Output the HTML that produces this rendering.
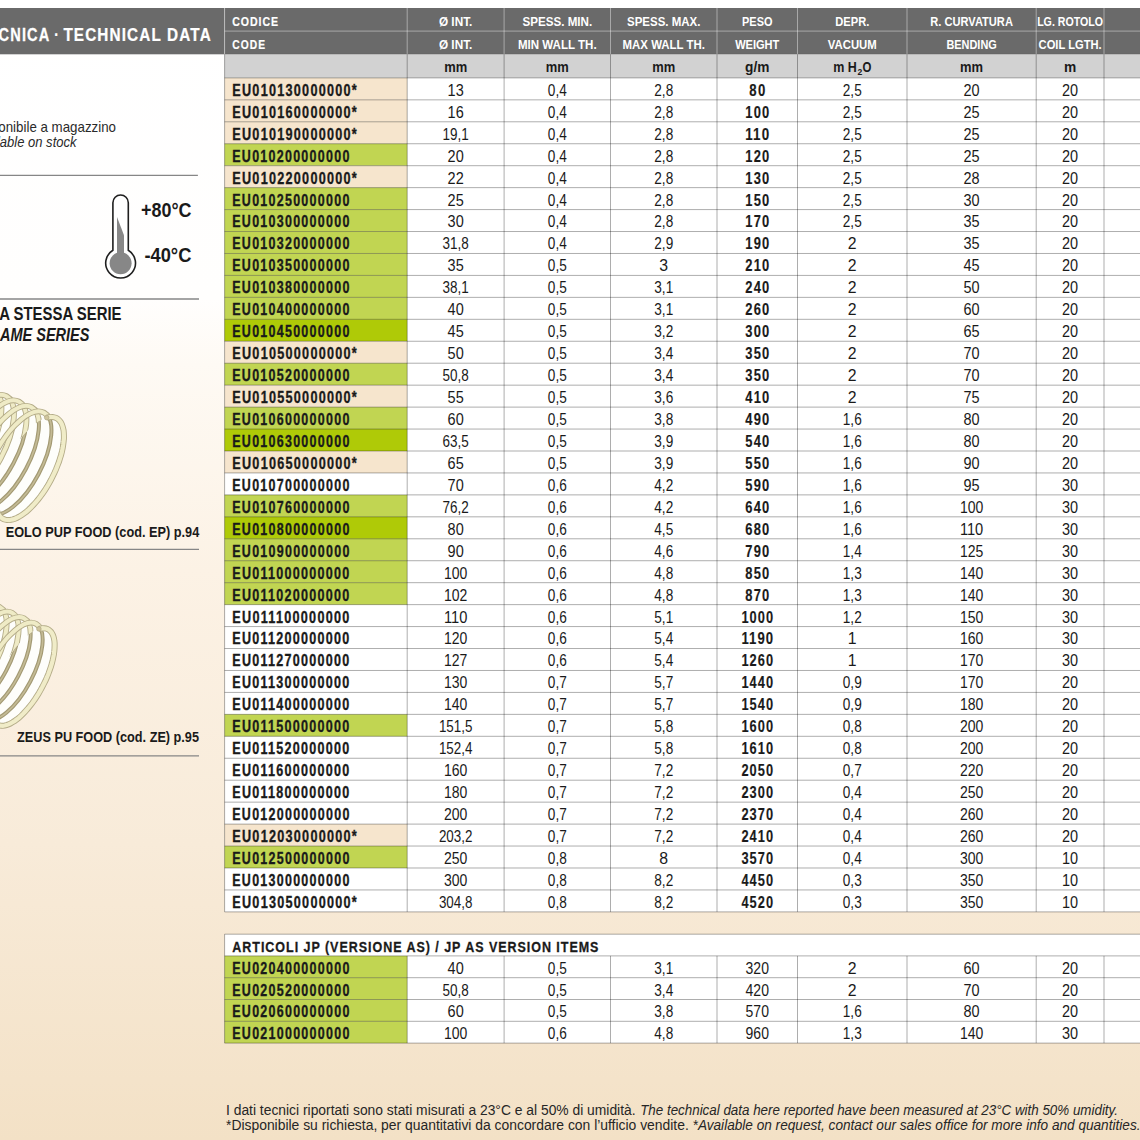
<!DOCTYPE html>
<html lang="it"><head><meta charset="utf-8"><title>Scheda tecnica · Technical data</title>
<style>
html,body{margin:0;padding:0;width:1140px;height:1140px;overflow:hidden;background:#fff;}
svg{display:block;font-family:"Liberation Sans", Arial, sans-serif;}

</style></head><body>
<svg width="1140" height="1140" viewBox="0 0 1140 1140">
<defs>
<linearGradient id="bg" x1="0" y1="0" x2="0" y2="1">
<stop offset="0" stop-color="#ffffff"/><stop offset="0.262" stop-color="#fffefd"/><stop offset="0.32" stop-color="#fefaf4"/><stop offset="0.5" stop-color="#fcf2e5"/><stop offset="0.74" stop-color="#f8ebd9"/><stop offset="1" stop-color="#f3e1c6"/>
</linearGradient>
<clipPath id="c1"><rect x="0" y="380" width="90" height="150"/></clipPath>
<clipPath id="c2"><rect x="0" y="590" width="90" height="145"/></clipPath>
</defs><rect x="0" y="0" width="1140" height="1140" fill="url(#bg)"/>
<g clip-path="url(#c1)">
<ellipse cx="-32.7" cy="441.0" rx="24" ry="57" transform="rotate(28 -32.7 441.0)" fill="#fefefb"/>
<ellipse cx="-20.2" cy="446.5" rx="24" ry="57" transform="rotate(28 -20.2 446.5)" fill="#fefefb"/>
<ellipse cx="-7.7" cy="452.0" rx="24" ry="57" transform="rotate(28 -7.7 452.0)" fill="#fefefb"/>
<ellipse cx="4.8" cy="457.5" rx="24" ry="57" transform="rotate(28 4.8 457.5)" fill="#fefefb"/>
<ellipse cx="17.3" cy="463.0" rx="24" ry="57" transform="rotate(28 17.3 463.0)" fill="#fefefb"/>
<ellipse cx="29.8" cy="468.5" rx="24" ry="57" transform="rotate(28 29.8 468.5)" fill="#fefefb"/>
<ellipse cx="-32.7" cy="441.0" rx="24" ry="57" transform="rotate(28 -32.7 441.0)" fill="none" stroke="#b4ac88" stroke-width="5.8"/>
<ellipse cx="-32.7" cy="441.0" rx="24" ry="57" transform="rotate(28 -32.7 441.0)" fill="none" stroke="#efebc6" stroke-width="4.0"/>
<ellipse cx="-20.2" cy="446.5" rx="24" ry="57" transform="rotate(28 -20.2 446.5)" fill="none" stroke="#b4ac88" stroke-width="5.8"/>
<ellipse cx="-20.2" cy="446.5" rx="24" ry="57" transform="rotate(28 -20.2 446.5)" fill="none" stroke="#efebc6" stroke-width="4.0"/>
<ellipse cx="-7.7" cy="452.0" rx="24" ry="57" transform="rotate(28 -7.7 452.0)" fill="none" stroke="#b4ac88" stroke-width="5.8"/>
<ellipse cx="-7.7" cy="452.0" rx="24" ry="57" transform="rotate(28 -7.7 452.0)" fill="none" stroke="#efebc6" stroke-width="4.0"/>
<ellipse cx="4.8" cy="457.5" rx="24" ry="57" transform="rotate(28 4.8 457.5)" fill="none" stroke="#b4ac88" stroke-width="5.8"/>
<ellipse cx="4.8" cy="457.5" rx="24" ry="57" transform="rotate(28 4.8 457.5)" fill="none" stroke="#efebc6" stroke-width="4.0"/>
<ellipse cx="17.3" cy="463.0" rx="24" ry="57" transform="rotate(28 17.3 463.0)" fill="none" stroke="#b4ac88" stroke-width="5.8"/>
<ellipse cx="17.3" cy="463.0" rx="24" ry="57" transform="rotate(28 17.3 463.0)" fill="none" stroke="#efebc6" stroke-width="4.0"/>
<clipPath id="c1i"><ellipse cx="29.8" cy="468.5" rx="24" ry="57" transform="rotate(28 29.8 468.5)"/></clipPath>
<ellipse cx="29.8" cy="468.5" rx="24" ry="57" transform="rotate(28 29.8 468.5)" fill="#fefefb"/>
<g clip-path="url(#c1i)">
<ellipse cx="-32.7" cy="441.0" rx="24" ry="57" transform="rotate(28 -32.7 441.0)" fill="none" stroke="#a39a74" stroke-width="4.0"/>
<ellipse cx="-32.7" cy="441.0" rx="24" ry="57" transform="rotate(28 -32.7 441.0)" fill="none" stroke="#c4bb95" stroke-width="1.6"/>
<ellipse cx="-20.2" cy="446.5" rx="24" ry="57" transform="rotate(28 -20.2 446.5)" fill="none" stroke="#a39a74" stroke-width="4.0"/>
<ellipse cx="-20.2" cy="446.5" rx="24" ry="57" transform="rotate(28 -20.2 446.5)" fill="none" stroke="#c4bb95" stroke-width="1.6"/>
<ellipse cx="-7.7" cy="452.0" rx="24" ry="57" transform="rotate(28 -7.7 452.0)" fill="none" stroke="#a39a74" stroke-width="4.0"/>
<ellipse cx="-7.7" cy="452.0" rx="24" ry="57" transform="rotate(28 -7.7 452.0)" fill="none" stroke="#c4bb95" stroke-width="1.6"/>
<ellipse cx="4.8" cy="457.5" rx="24" ry="57" transform="rotate(28 4.8 457.5)" fill="none" stroke="#a39a74" stroke-width="4.0"/>
<ellipse cx="4.8" cy="457.5" rx="24" ry="57" transform="rotate(28 4.8 457.5)" fill="none" stroke="#c4bb95" stroke-width="1.6"/>
<ellipse cx="17.3" cy="463.0" rx="24" ry="57" transform="rotate(28 17.3 463.0)" fill="none" stroke="#a39a74" stroke-width="4.0"/>
<ellipse cx="17.3" cy="463.0" rx="24" ry="57" transform="rotate(28 17.3 463.0)" fill="none" stroke="#c4bb95" stroke-width="1.6"/>
</g>
<path d="M46.7,417.6 L48.7,417.2 L50.6,416.9 L52.5,417.0 L54.2,417.3 L55.8,417.8 L57.3,418.6 L58.6,419.6 L59.8,420.9 L60.9,422.4 L61.8,424.1 L62.5,426.1 L63.1,428.2 L63.6,430.5 L63.8,433.1 L63.9,435.8 L63.9,438.6 L63.6,441.6 L63.2,444.8 L62.7,448.0 L62.0,451.4 L61.1,454.8 L60.0,458.3 L58.9,461.9 L57.5,465.5 L56.1,469.1 L54.5,472.7 L52.8,476.2 L51.0,479.8 L49.1,483.3 L47.1,486.7 L45.0,490.0 L42.8,493.2 L40.6,496.3 L38.3,499.3 L35.9,502.1 L33.6,504.7 L31.2,507.2 L28.8,509.5 L26.5,511.6 L24.1,513.4 L21.8,515.1 L19.5,516.5 L17.2,517.7 L15.0,518.7 L12.9,519.4 L10.9,519.8 L9.0,520.1 L7.1,520.0 L5.4,519.7 L3.8,519.2 L2.3,518.4 L1.0,517.4 L-0.2,516.1 L-1.3,514.6 L-2.2,512.9 L-2.9,510.9 L-3.5,508.8 L-4.0,506.5 L-4.2,503.9 L-4.3,501.2" fill="none" stroke="#b4ac88" stroke-width="6.0"/>
<path d="M46.7,417.6 L48.7,417.2 L50.6,416.9 L52.5,417.0 L54.2,417.3 L55.8,417.8 L57.3,418.6 L58.6,419.6 L59.8,420.9 L60.9,422.4 L61.8,424.1 L62.5,426.1 L63.1,428.2 L63.6,430.5 L63.8,433.1 L63.9,435.8 L63.9,438.6 L63.6,441.6 L63.2,444.8 L62.7,448.0 L62.0,451.4 L61.1,454.8 L60.0,458.3 L58.9,461.9 L57.5,465.5 L56.1,469.1 L54.5,472.7 L52.8,476.2 L51.0,479.8 L49.1,483.3 L47.1,486.7 L45.0,490.0 L42.8,493.2 L40.6,496.3 L38.3,499.3 L35.9,502.1 L33.6,504.7 L31.2,507.2 L28.8,509.5 L26.5,511.6 L24.1,513.4 L21.8,515.1 L19.5,516.5 L17.2,517.7 L15.0,518.7 L12.9,519.4 L10.9,519.8 L9.0,520.1 L7.1,520.0 L5.4,519.7 L3.8,519.2 L2.3,518.4 L1.0,517.4 L-0.2,516.1 L-1.3,514.6 L-2.2,512.9 L-2.9,510.9 L-3.5,508.8 L-4.0,506.5 L-4.2,503.9 L-4.3,501.2" fill="none" stroke="#f0ecc8" stroke-width="4.2"/>
<circle cx="46.7" cy="417.6" r="2.3" fill="#cfc59c" stroke="#a99f7a" stroke-width="0.6"/>
</g><g clip-path="url(#c2)">
<ellipse cx="-37.3" cy="649.5" rx="22" ry="54" transform="rotate(28 -37.3 649.5)" fill="#fefefb"/>
<ellipse cx="-25.3" cy="655.0" rx="22" ry="54" transform="rotate(28 -25.3 655.0)" fill="#fefefb"/>
<ellipse cx="-13.3" cy="660.5" rx="22" ry="54" transform="rotate(28 -13.3 660.5)" fill="#fefefb"/>
<ellipse cx="-1.3" cy="666.0" rx="22" ry="54" transform="rotate(28 -1.3 666.0)" fill="#fefefb"/>
<ellipse cx="10.7" cy="671.5" rx="22" ry="54" transform="rotate(28 10.7 671.5)" fill="#fefefb"/>
<ellipse cx="22.7" cy="677.0" rx="22" ry="54" transform="rotate(28 22.7 677.0)" fill="#fefefb"/>
<ellipse cx="-37.3" cy="649.5" rx="22" ry="54" transform="rotate(28 -37.3 649.5)" fill="none" stroke="#b4ac88" stroke-width="5.8"/>
<ellipse cx="-37.3" cy="649.5" rx="22" ry="54" transform="rotate(28 -37.3 649.5)" fill="none" stroke="#efebc6" stroke-width="4.0"/>
<ellipse cx="-25.3" cy="655.0" rx="22" ry="54" transform="rotate(28 -25.3 655.0)" fill="none" stroke="#b4ac88" stroke-width="5.8"/>
<ellipse cx="-25.3" cy="655.0" rx="22" ry="54" transform="rotate(28 -25.3 655.0)" fill="none" stroke="#efebc6" stroke-width="4.0"/>
<ellipse cx="-13.3" cy="660.5" rx="22" ry="54" transform="rotate(28 -13.3 660.5)" fill="none" stroke="#b4ac88" stroke-width="5.8"/>
<ellipse cx="-13.3" cy="660.5" rx="22" ry="54" transform="rotate(28 -13.3 660.5)" fill="none" stroke="#efebc6" stroke-width="4.0"/>
<ellipse cx="-1.3" cy="666.0" rx="22" ry="54" transform="rotate(28 -1.3 666.0)" fill="none" stroke="#b4ac88" stroke-width="5.8"/>
<ellipse cx="-1.3" cy="666.0" rx="22" ry="54" transform="rotate(28 -1.3 666.0)" fill="none" stroke="#efebc6" stroke-width="4.0"/>
<ellipse cx="10.7" cy="671.5" rx="22" ry="54" transform="rotate(28 10.7 671.5)" fill="none" stroke="#b4ac88" stroke-width="5.8"/>
<ellipse cx="10.7" cy="671.5" rx="22" ry="54" transform="rotate(28 10.7 671.5)" fill="none" stroke="#efebc6" stroke-width="4.0"/>
<clipPath id="c2i"><ellipse cx="22.7" cy="677.0" rx="22" ry="54" transform="rotate(28 22.7 677.0)"/></clipPath>
<ellipse cx="22.7" cy="677.0" rx="22" ry="54" transform="rotate(28 22.7 677.0)" fill="#fefefb"/>
<g clip-path="url(#c2i)">
<ellipse cx="-37.3" cy="649.5" rx="22" ry="54" transform="rotate(28 -37.3 649.5)" fill="none" stroke="#a39a74" stroke-width="4.0"/>
<ellipse cx="-37.3" cy="649.5" rx="22" ry="54" transform="rotate(28 -37.3 649.5)" fill="none" stroke="#c4bb95" stroke-width="1.6"/>
<ellipse cx="-25.3" cy="655.0" rx="22" ry="54" transform="rotate(28 -25.3 655.0)" fill="none" stroke="#a39a74" stroke-width="4.0"/>
<ellipse cx="-25.3" cy="655.0" rx="22" ry="54" transform="rotate(28 -25.3 655.0)" fill="none" stroke="#c4bb95" stroke-width="1.6"/>
<ellipse cx="-13.3" cy="660.5" rx="22" ry="54" transform="rotate(28 -13.3 660.5)" fill="none" stroke="#a39a74" stroke-width="4.0"/>
<ellipse cx="-13.3" cy="660.5" rx="22" ry="54" transform="rotate(28 -13.3 660.5)" fill="none" stroke="#c4bb95" stroke-width="1.6"/>
<ellipse cx="-1.3" cy="666.0" rx="22" ry="54" transform="rotate(28 -1.3 666.0)" fill="none" stroke="#a39a74" stroke-width="4.0"/>
<ellipse cx="-1.3" cy="666.0" rx="22" ry="54" transform="rotate(28 -1.3 666.0)" fill="none" stroke="#c4bb95" stroke-width="1.6"/>
<ellipse cx="10.7" cy="671.5" rx="22" ry="54" transform="rotate(28 10.7 671.5)" fill="none" stroke="#a39a74" stroke-width="4.0"/>
<ellipse cx="10.7" cy="671.5" rx="22" ry="54" transform="rotate(28 10.7 671.5)" fill="none" stroke="#c4bb95" stroke-width="1.6"/>
</g>
<path d="M38.9,628.9 L40.8,628.5 L42.6,628.2 L44.3,628.3 L45.9,628.5 L47.4,629.0 L48.7,629.7 L49.9,630.7 L51.0,631.8 L52.0,633.2 L52.8,634.8 L53.5,636.7 L54.0,638.7 L54.4,640.9 L54.6,643.2 L54.6,645.8 L54.5,648.5 L54.3,651.3 L53.9,654.3 L53.3,657.3 L52.6,660.5 L51.8,663.7 L50.8,667.0 L49.6,670.4 L48.4,673.8 L47.0,677.2 L45.5,680.6 L43.8,684.0 L42.1,687.3 L40.3,690.6 L38.4,693.9 L36.4,697.0 L34.4,700.1 L32.3,703.0 L30.1,705.8 L27.9,708.5 L25.7,711.0 L23.5,713.4 L21.3,715.6 L19.1,717.6 L16.9,719.3 L14.7,720.9 L12.5,722.3 L10.5,723.5 L8.4,724.4 L6.5,725.1 L4.6,725.5 L2.8,725.8 L1.1,725.7 L-0.5,725.5 L-2.0,725.0 L-3.3,724.3 L-4.5,723.3 L-5.6,722.2 L-6.6,720.8 L-7.4,719.2 L-8.1,717.3 L-8.6,715.3 L-9.0,713.1 L-9.2,710.8 L-9.2,708.2" fill="none" stroke="#b4ac88" stroke-width="6.0"/>
<path d="M38.9,628.9 L40.8,628.5 L42.6,628.2 L44.3,628.3 L45.9,628.5 L47.4,629.0 L48.7,629.7 L49.9,630.7 L51.0,631.8 L52.0,633.2 L52.8,634.8 L53.5,636.7 L54.0,638.7 L54.4,640.9 L54.6,643.2 L54.6,645.8 L54.5,648.5 L54.3,651.3 L53.9,654.3 L53.3,657.3 L52.6,660.5 L51.8,663.7 L50.8,667.0 L49.6,670.4 L48.4,673.8 L47.0,677.2 L45.5,680.6 L43.8,684.0 L42.1,687.3 L40.3,690.6 L38.4,693.9 L36.4,697.0 L34.4,700.1 L32.3,703.0 L30.1,705.8 L27.9,708.5 L25.7,711.0 L23.5,713.4 L21.3,715.6 L19.1,717.6 L16.9,719.3 L14.7,720.9 L12.5,722.3 L10.5,723.5 L8.4,724.4 L6.5,725.1 L4.6,725.5 L2.8,725.8 L1.1,725.7 L-0.5,725.5 L-2.0,725.0 L-3.3,724.3 L-4.5,723.3 L-5.6,722.2 L-6.6,720.8 L-7.4,719.2 L-8.1,717.3 L-8.6,715.3 L-9.0,713.1 L-9.2,710.8 L-9.2,708.2" fill="none" stroke="#f0ecc8" stroke-width="4.2"/>
<circle cx="38.9" cy="628.9" r="2.3" fill="#cfc59c" stroke="#a99f7a" stroke-width="0.6"/>
</g>
<rect x="0.00" y="8.00" width="224.60" height="46.30" fill="#6a6a6a"/>
<text x="61.78" y="41.20" transform="scale(0.7980,1)" textLength="181.12" lengthAdjust="spacing" font-size="18.3" font-weight="700" text-anchor="end" fill="#ffffff" stroke="#ffffff" stroke-width="0.25">SCHEDA TECNICA</text>
<text x="56.60" y="41.20" textLength="5.22" lengthAdjust="spacingAndGlyphs" font-size="18.3" font-weight="700" text-anchor="middle" fill="#ffffff">·</text>
<text x="75.84" y="41.20" transform="scale(0.8359,1)" textLength="176.21" lengthAdjust="spacing" font-size="18.3" font-weight="700" fill="#ffffff" stroke="#ffffff" stroke-width="0.25">TECHNICAL DATA</text>
<rect x="224.60" y="8.00" width="935.40" height="46.30" fill="#6a6a6a"/>
<rect x="224.60" y="54.30" width="935.40" height="23.60" fill="#d2d2d2"/>
<rect x="224.60" y="77.90" width="935.40" height="833.99" fill="#ffffff"/>
<rect x="224.60" y="77.90" width="182.60" height="21.95" fill="#f6e5cd"/>
<rect x="224.60" y="99.85" width="182.60" height="21.95" fill="#f6e5cd"/>
<rect x="224.60" y="121.79" width="182.60" height="21.95" fill="#f6e5cd"/>
<rect x="224.60" y="143.74" width="182.60" height="21.95" fill="#c1d552"/>
<rect x="224.60" y="165.69" width="182.60" height="21.95" fill="#f6e5cd"/>
<rect x="224.60" y="187.63" width="182.60" height="21.95" fill="#c1d552"/>
<rect x="224.60" y="209.58" width="182.60" height="21.95" fill="#c1d552"/>
<rect x="224.60" y="231.53" width="182.60" height="21.95" fill="#c1d552"/>
<rect x="224.60" y="253.48" width="182.60" height="21.95" fill="#c1d552"/>
<rect x="224.60" y="275.42" width="182.60" height="21.95" fill="#c1d552"/>
<rect x="224.60" y="297.37" width="182.60" height="21.95" fill="#c1d552"/>
<rect x="224.60" y="319.32" width="182.60" height="21.95" fill="#afca07"/>
<rect x="224.60" y="341.26" width="182.60" height="21.95" fill="#f6e5cd"/>
<rect x="224.60" y="363.21" width="182.60" height="21.95" fill="#c1d552"/>
<rect x="224.60" y="385.16" width="182.60" height="21.95" fill="#f6e5cd"/>
<rect x="224.60" y="407.11" width="182.60" height="21.95" fill="#c1d552"/>
<rect x="224.60" y="429.05" width="182.60" height="21.95" fill="#afca07"/>
<rect x="224.60" y="451.00" width="182.60" height="21.95" fill="#f6e5cd"/>
<rect x="224.60" y="494.89" width="182.60" height="21.95" fill="#c1d552"/>
<rect x="224.60" y="516.84" width="182.60" height="21.95" fill="#afca07"/>
<rect x="224.60" y="538.79" width="182.60" height="21.95" fill="#c1d552"/>
<rect x="224.60" y="560.73" width="182.60" height="21.95" fill="#c1d552"/>
<rect x="224.60" y="582.68" width="182.60" height="21.95" fill="#c1d552"/>
<rect x="224.60" y="714.36" width="182.60" height="21.95" fill="#c1d552"/>
<rect x="224.60" y="824.10" width="182.60" height="21.95" fill="#f6e5cd"/>
<rect x="224.60" y="846.04" width="182.60" height="21.95" fill="#c1d552"/>
<line x1="224.60" y1="31.10" x2="1160.00" y2="31.10" stroke="rgba(255,255,255,0.42)" stroke-width="1.0"/>
<line x1="224.60" y1="8.00" x2="224.60" y2="54.30" stroke="rgba(255,255,255,0.42)" stroke-width="1.0"/>
<line x1="407.20" y1="8.00" x2="407.20" y2="54.30" stroke="rgba(255,255,255,0.42)" stroke-width="1.0"/>
<line x1="504.10" y1="8.00" x2="504.10" y2="54.30" stroke="rgba(255,255,255,0.42)" stroke-width="1.0"/>
<line x1="610.50" y1="8.00" x2="610.50" y2="54.30" stroke="rgba(255,255,255,0.42)" stroke-width="1.0"/>
<line x1="717.00" y1="8.00" x2="717.00" y2="54.30" stroke="rgba(255,255,255,0.42)" stroke-width="1.0"/>
<line x1="797.50" y1="8.00" x2="797.50" y2="54.30" stroke="rgba(255,255,255,0.42)" stroke-width="1.0"/>
<line x1="907.00" y1="8.00" x2="907.00" y2="54.30" stroke="rgba(255,255,255,0.42)" stroke-width="1.0"/>
<line x1="1036.20" y1="8.00" x2="1036.20" y2="54.30" stroke="rgba(255,255,255,0.42)" stroke-width="1.0"/>
<line x1="1104.00" y1="8.00" x2="1104.00" y2="54.30" stroke="rgba(255,255,255,0.42)" stroke-width="1.0"/>
<line x1="224.60" y1="54.30" x2="224.60" y2="911.89" stroke="rgba(0,0,0,0.32)" stroke-width="1.0"/>
<line x1="407.20" y1="54.30" x2="407.20" y2="911.89" stroke="rgba(0,0,0,0.32)" stroke-width="1.0"/>
<line x1="504.10" y1="54.30" x2="504.10" y2="911.89" stroke="rgba(0,0,0,0.32)" stroke-width="1.0"/>
<line x1="610.50" y1="54.30" x2="610.50" y2="911.89" stroke="rgba(0,0,0,0.32)" stroke-width="1.0"/>
<line x1="717.00" y1="54.30" x2="717.00" y2="911.89" stroke="rgba(0,0,0,0.32)" stroke-width="1.0"/>
<line x1="797.50" y1="54.30" x2="797.50" y2="911.89" stroke="rgba(0,0,0,0.32)" stroke-width="1.0"/>
<line x1="907.00" y1="54.30" x2="907.00" y2="911.89" stroke="rgba(0,0,0,0.32)" stroke-width="1.0"/>
<line x1="1036.20" y1="54.30" x2="1036.20" y2="911.89" stroke="rgba(0,0,0,0.32)" stroke-width="1.0"/>
<line x1="1104.00" y1="54.30" x2="1104.00" y2="911.89" stroke="rgba(0,0,0,0.32)" stroke-width="1.0"/>
<line x1="224.60" y1="77.90" x2="1160.00" y2="77.90" stroke="rgba(0,0,0,0.32)" stroke-width="1.0"/>
<line x1="224.60" y1="99.85" x2="1160.00" y2="99.85" stroke="rgba(0,0,0,0.32)" stroke-width="1.0"/>
<line x1="224.60" y1="121.79" x2="1160.00" y2="121.79" stroke="rgba(0,0,0,0.32)" stroke-width="1.0"/>
<line x1="224.60" y1="143.74" x2="1160.00" y2="143.74" stroke="rgba(0,0,0,0.32)" stroke-width="1.0"/>
<line x1="224.60" y1="165.69" x2="1160.00" y2="165.69" stroke="rgba(0,0,0,0.32)" stroke-width="1.0"/>
<line x1="224.60" y1="187.63" x2="1160.00" y2="187.63" stroke="rgba(0,0,0,0.32)" stroke-width="1.0"/>
<line x1="224.60" y1="209.58" x2="1160.00" y2="209.58" stroke="rgba(0,0,0,0.32)" stroke-width="1.0"/>
<line x1="224.60" y1="231.53" x2="1160.00" y2="231.53" stroke="rgba(0,0,0,0.32)" stroke-width="1.0"/>
<line x1="224.60" y1="253.48" x2="1160.00" y2="253.48" stroke="rgba(0,0,0,0.32)" stroke-width="1.0"/>
<line x1="224.60" y1="275.42" x2="1160.00" y2="275.42" stroke="rgba(0,0,0,0.32)" stroke-width="1.0"/>
<line x1="224.60" y1="297.37" x2="1160.00" y2="297.37" stroke="rgba(0,0,0,0.32)" stroke-width="1.0"/>
<line x1="224.60" y1="319.32" x2="1160.00" y2="319.32" stroke="rgba(0,0,0,0.32)" stroke-width="1.0"/>
<line x1="224.60" y1="341.26" x2="1160.00" y2="341.26" stroke="rgba(0,0,0,0.32)" stroke-width="1.0"/>
<line x1="224.60" y1="363.21" x2="1160.00" y2="363.21" stroke="rgba(0,0,0,0.32)" stroke-width="1.0"/>
<line x1="224.60" y1="385.16" x2="1160.00" y2="385.16" stroke="rgba(0,0,0,0.32)" stroke-width="1.0"/>
<line x1="224.60" y1="407.11" x2="1160.00" y2="407.11" stroke="rgba(0,0,0,0.32)" stroke-width="1.0"/>
<line x1="224.60" y1="429.05" x2="1160.00" y2="429.05" stroke="rgba(0,0,0,0.32)" stroke-width="1.0"/>
<line x1="224.60" y1="451.00" x2="1160.00" y2="451.00" stroke="rgba(0,0,0,0.32)" stroke-width="1.0"/>
<line x1="224.60" y1="472.95" x2="1160.00" y2="472.95" stroke="rgba(0,0,0,0.32)" stroke-width="1.0"/>
<line x1="224.60" y1="494.89" x2="1160.00" y2="494.89" stroke="rgba(0,0,0,0.32)" stroke-width="1.0"/>
<line x1="224.60" y1="516.84" x2="1160.00" y2="516.84" stroke="rgba(0,0,0,0.32)" stroke-width="1.0"/>
<line x1="224.60" y1="538.79" x2="1160.00" y2="538.79" stroke="rgba(0,0,0,0.32)" stroke-width="1.0"/>
<line x1="224.60" y1="560.73" x2="1160.00" y2="560.73" stroke="rgba(0,0,0,0.32)" stroke-width="1.0"/>
<line x1="224.60" y1="582.68" x2="1160.00" y2="582.68" stroke="rgba(0,0,0,0.32)" stroke-width="1.0"/>
<line x1="224.60" y1="604.63" x2="1160.00" y2="604.63" stroke="rgba(0,0,0,0.32)" stroke-width="1.0"/>
<line x1="224.60" y1="626.57" x2="1160.00" y2="626.57" stroke="rgba(0,0,0,0.32)" stroke-width="1.0"/>
<line x1="224.60" y1="648.52" x2="1160.00" y2="648.52" stroke="rgba(0,0,0,0.32)" stroke-width="1.0"/>
<line x1="224.60" y1="670.47" x2="1160.00" y2="670.47" stroke="rgba(0,0,0,0.32)" stroke-width="1.0"/>
<line x1="224.60" y1="692.42" x2="1160.00" y2="692.42" stroke="rgba(0,0,0,0.32)" stroke-width="1.0"/>
<line x1="224.60" y1="714.36" x2="1160.00" y2="714.36" stroke="rgba(0,0,0,0.32)" stroke-width="1.0"/>
<line x1="224.60" y1="736.31" x2="1160.00" y2="736.31" stroke="rgba(0,0,0,0.32)" stroke-width="1.0"/>
<line x1="224.60" y1="758.26" x2="1160.00" y2="758.26" stroke="rgba(0,0,0,0.32)" stroke-width="1.0"/>
<line x1="224.60" y1="780.20" x2="1160.00" y2="780.20" stroke="rgba(0,0,0,0.32)" stroke-width="1.0"/>
<line x1="224.60" y1="802.15" x2="1160.00" y2="802.15" stroke="rgba(0,0,0,0.32)" stroke-width="1.0"/>
<line x1="224.60" y1="824.10" x2="1160.00" y2="824.10" stroke="rgba(0,0,0,0.32)" stroke-width="1.0"/>
<line x1="224.60" y1="846.04" x2="1160.00" y2="846.04" stroke="rgba(0,0,0,0.32)" stroke-width="1.0"/>
<line x1="224.60" y1="867.99" x2="1160.00" y2="867.99" stroke="rgba(0,0,0,0.32)" stroke-width="1.0"/>
<line x1="224.60" y1="889.94" x2="1160.00" y2="889.94" stroke="rgba(0,0,0,0.32)" stroke-width="1.0"/>
<line x1="224.60" y1="911.89" x2="1160.00" y2="911.89" stroke="rgba(0,0,0,0.32)" stroke-width="1.0"/>
<line x1="224.60" y1="54.30" x2="1160.00" y2="54.30" stroke="rgba(0,0,0,0.15)" stroke-width="1.0"/>
<text x="296.45" y="26.00" transform="scale(0.7836,1)" textLength="58.34" lengthAdjust="spacing" font-size="13.5" font-weight="700" fill="#ffffff" stroke="#ffffff" stroke-width="0.2">CODICE</text>
<text x="306.15" y="49.20" transform="scale(0.7588,1)" textLength="43.34" lengthAdjust="spacing" font-size="13.5" font-weight="700" fill="#ffffff" stroke="#ffffff" stroke-width="0.2">CODE</text>
<text x="455.65" y="26.00" textLength="33.43" lengthAdjust="spacingAndGlyphs" font-size="13.5" font-weight="700" text-anchor="middle" fill="#ffffff">Ø INT.</text>
<text x="455.65" y="49.20" textLength="33.43" lengthAdjust="spacingAndGlyphs" font-size="13.5" font-weight="700" text-anchor="middle" fill="#ffffff">Ø INT.</text>
<text x="557.30" y="26.00" textLength="69.75" lengthAdjust="spacingAndGlyphs" font-size="13.5" font-weight="700" text-anchor="middle" fill="#ffffff">SPESS. MIN.</text>
<text x="557.30" y="49.20" textLength="78.63" lengthAdjust="spacingAndGlyphs" font-size="13.5" font-weight="700" text-anchor="middle" fill="#ffffff">MIN WALL TH.</text>
<text x="663.75" y="26.00" textLength="73.43" lengthAdjust="spacingAndGlyphs" font-size="13.5" font-weight="700" text-anchor="middle" fill="#ffffff">SPESS. MAX.</text>
<text x="663.75" y="49.20" textLength="82.32" lengthAdjust="spacingAndGlyphs" font-size="13.5" font-weight="700" text-anchor="middle" fill="#ffffff">MAX WALL TH.</text>
<text x="757.25" y="26.00" textLength="30.38" lengthAdjust="spacingAndGlyphs" font-size="13.5" font-weight="700" text-anchor="middle" fill="#ffffff">PESO</text>
<text x="757.25" y="49.20" textLength="44.20" lengthAdjust="spacingAndGlyphs" font-size="13.5" font-weight="700" text-anchor="middle" fill="#ffffff">WEIGHT</text>
<text x="852.25" y="26.00" textLength="34.03" lengthAdjust="spacingAndGlyphs" font-size="13.5" font-weight="700" text-anchor="middle" fill="#ffffff">DEPR.</text>
<text x="852.25" y="49.20" textLength="48.90" lengthAdjust="spacingAndGlyphs" font-size="13.5" font-weight="700" text-anchor="middle" fill="#ffffff">VACUUM</text>
<text x="971.60" y="26.00" textLength="82.59" lengthAdjust="spacingAndGlyphs" font-size="13.5" font-weight="700" text-anchor="middle" fill="#ffffff">R. CURVATURA</text>
<text x="971.60" y="49.20" textLength="50.35" lengthAdjust="spacingAndGlyphs" font-size="13.5" font-weight="700" text-anchor="middle" fill="#ffffff">BENDING</text>
<text x="1070.10" y="26.00" textLength="65.93" lengthAdjust="spacingAndGlyphs" font-size="13.5" font-weight="700" text-anchor="middle" fill="#ffffff">LG. ROTOLO</text>
<text x="1070.10" y="49.20" textLength="63.07" lengthAdjust="spacingAndGlyphs" font-size="13.5" font-weight="700" text-anchor="middle" fill="#ffffff">COIL LGTH.</text>
<text x="455.65" y="72.20" textLength="23.01" lengthAdjust="spacingAndGlyphs" font-size="15" font-weight="700" text-anchor="middle" fill="#1a1a1a">mm</text>
<text x="557.30" y="72.20" textLength="23.01" lengthAdjust="spacingAndGlyphs" font-size="15" font-weight="700" text-anchor="middle" fill="#1a1a1a">mm</text>
<text x="663.75" y="72.20" textLength="23.01" lengthAdjust="spacingAndGlyphs" font-size="15" font-weight="700" text-anchor="middle" fill="#1a1a1a">mm</text>
<text x="757.25" y="72.20" textLength="24.35" lengthAdjust="spacingAndGlyphs" font-size="15" font-weight="700" text-anchor="middle" fill="#1a1a1a">g/m</text>
<text x="971.60" y="72.20" textLength="23.01" lengthAdjust="spacingAndGlyphs" font-size="15" font-weight="700" text-anchor="middle" fill="#1a1a1a">mm</text>
<text x="1070.10" y="72.20" textLength="12.25" lengthAdjust="spacingAndGlyphs" font-size="15" font-weight="700" text-anchor="middle" fill="#1a1a1a">m</text>
<text x="845.00" y="72.00" textLength="23.60" lengthAdjust="spacingAndGlyphs" font-size="14.5" font-weight="700" text-anchor="middle" fill="#1a1a1a">m H</text>
<text x="859.90" y="75.00" textLength="4.80" lengthAdjust="spacingAndGlyphs" font-size="9.5" font-weight="700" text-anchor="middle" fill="#1a1a1a">2</text>
<text x="866.90" y="72.00" textLength="8.90" lengthAdjust="spacingAndGlyphs" font-size="14.5" font-weight="700" text-anchor="middle" fill="#1a1a1a">O</text>
<text x="293.46" y="95.80" transform="scale(0.7916,1)" textLength="157.25" lengthAdjust="spacing" font-size="16" font-weight="700" fill="#1a1a1a" stroke="#1a1a1a" stroke-width="0.35">EU010130000000*</text>
<text x="455.65" y="95.80" textLength="16.09" lengthAdjust="spacingAndGlyphs" font-size="16" text-anchor="middle" fill="#1a1a1a">13</text>
<text x="557.30" y="95.80" textLength="18.92" lengthAdjust="spacingAndGlyphs" font-size="16" text-anchor="middle" fill="#1a1a1a">0,4</text>
<text x="663.75" y="95.80" textLength="18.92" lengthAdjust="spacingAndGlyphs" font-size="16" text-anchor="middle" fill="#1a1a1a">2,8</text>
<text x="920.03" y="95.80" transform="scale(0.8231,1)" textLength="19.77" lengthAdjust="spacing" font-size="16" font-weight="700" text-anchor="middle" fill="#1a1a1a" stroke="#1a1a1a" stroke-width="0.15">80</text>
<text x="852.25" y="95.80" textLength="18.92" lengthAdjust="spacingAndGlyphs" font-size="16" text-anchor="middle" fill="#1a1a1a">2,5</text>
<text x="971.60" y="95.80" textLength="16.09" lengthAdjust="spacingAndGlyphs" font-size="16" text-anchor="middle" fill="#1a1a1a">20</text>
<text x="1070.10" y="95.80" textLength="16.09" lengthAdjust="spacingAndGlyphs" font-size="16" text-anchor="middle" fill="#1a1a1a">20</text>
<text x="293.46" y="117.75" transform="scale(0.7916,1)" textLength="157.25" lengthAdjust="spacing" font-size="16" font-weight="700" fill="#1a1a1a" stroke="#1a1a1a" stroke-width="0.35">EU010160000000*</text>
<text x="455.65" y="117.75" textLength="16.09" lengthAdjust="spacingAndGlyphs" font-size="16" text-anchor="middle" fill="#1a1a1a">16</text>
<text x="557.30" y="117.75" textLength="18.92" lengthAdjust="spacingAndGlyphs" font-size="16" text-anchor="middle" fill="#1a1a1a">0,4</text>
<text x="663.75" y="117.75" textLength="18.92" lengthAdjust="spacingAndGlyphs" font-size="16" text-anchor="middle" fill="#1a1a1a">2,8</text>
<text x="937.31" y="117.75" transform="scale(0.8079,1)" textLength="29.66" lengthAdjust="spacing" font-size="16" font-weight="700" text-anchor="middle" fill="#1a1a1a" stroke="#1a1a1a" stroke-width="0.15">100</text>
<text x="852.25" y="117.75" textLength="18.92" lengthAdjust="spacingAndGlyphs" font-size="16" text-anchor="middle" fill="#1a1a1a">2,5</text>
<text x="971.60" y="117.75" textLength="16.09" lengthAdjust="spacingAndGlyphs" font-size="16" text-anchor="middle" fill="#1a1a1a">25</text>
<text x="1070.10" y="117.75" textLength="16.09" lengthAdjust="spacingAndGlyphs" font-size="16" text-anchor="middle" fill="#1a1a1a">20</text>
<text x="293.46" y="139.69" transform="scale(0.7916,1)" textLength="157.25" lengthAdjust="spacing" font-size="16" font-weight="700" fill="#1a1a1a" stroke="#1a1a1a" stroke-width="0.35">EU010190000000*</text>
<text x="455.65" y="139.69" textLength="26.21" lengthAdjust="spacingAndGlyphs" font-size="16" text-anchor="middle" fill="#1a1a1a">19,1</text>
<text x="557.30" y="139.69" textLength="18.92" lengthAdjust="spacingAndGlyphs" font-size="16" text-anchor="middle" fill="#1a1a1a">0,4</text>
<text x="663.75" y="139.69" textLength="18.92" lengthAdjust="spacingAndGlyphs" font-size="16" text-anchor="middle" fill="#1a1a1a">2,8</text>
<text x="906.31" y="139.69" transform="scale(0.8355,1)" textLength="28.68" lengthAdjust="spacing" font-size="16" font-weight="700" text-anchor="middle" fill="#1a1a1a" stroke="#1a1a1a" stroke-width="0.15">110</text>
<text x="852.25" y="139.69" textLength="18.92" lengthAdjust="spacingAndGlyphs" font-size="16" text-anchor="middle" fill="#1a1a1a">2,5</text>
<text x="971.60" y="139.69" textLength="16.09" lengthAdjust="spacingAndGlyphs" font-size="16" text-anchor="middle" fill="#1a1a1a">25</text>
<text x="1070.10" y="139.69" textLength="16.09" lengthAdjust="spacingAndGlyphs" font-size="16" text-anchor="middle" fill="#1a1a1a">20</text>
<text x="297.73" y="161.64" transform="scale(0.7802,1)" textLength="150.01" lengthAdjust="spacing" font-size="16" font-weight="700" fill="#1a1a1a" stroke="#1a1a1a" stroke-width="0.35">EU010200000000</text>
<text x="455.65" y="161.64" textLength="16.09" lengthAdjust="spacingAndGlyphs" font-size="16" text-anchor="middle" fill="#1a1a1a">20</text>
<text x="557.30" y="161.64" textLength="18.92" lengthAdjust="spacingAndGlyphs" font-size="16" text-anchor="middle" fill="#1a1a1a">0,4</text>
<text x="663.75" y="161.64" textLength="18.92" lengthAdjust="spacingAndGlyphs" font-size="16" text-anchor="middle" fill="#1a1a1a">2,8</text>
<text x="937.31" y="161.64" transform="scale(0.8079,1)" textLength="29.66" lengthAdjust="spacing" font-size="16" font-weight="700" text-anchor="middle" fill="#1a1a1a" stroke="#1a1a1a" stroke-width="0.15">120</text>
<text x="852.25" y="161.64" textLength="18.92" lengthAdjust="spacingAndGlyphs" font-size="16" text-anchor="middle" fill="#1a1a1a">2,5</text>
<text x="971.60" y="161.64" textLength="16.09" lengthAdjust="spacingAndGlyphs" font-size="16" text-anchor="middle" fill="#1a1a1a">25</text>
<text x="1070.10" y="161.64" textLength="16.09" lengthAdjust="spacingAndGlyphs" font-size="16" text-anchor="middle" fill="#1a1a1a">20</text>
<text x="293.46" y="183.59" transform="scale(0.7916,1)" textLength="157.25" lengthAdjust="spacing" font-size="16" font-weight="700" fill="#1a1a1a" stroke="#1a1a1a" stroke-width="0.35">EU010220000000*</text>
<text x="455.65" y="183.59" textLength="16.09" lengthAdjust="spacingAndGlyphs" font-size="16" text-anchor="middle" fill="#1a1a1a">22</text>
<text x="557.30" y="183.59" textLength="18.92" lengthAdjust="spacingAndGlyphs" font-size="16" text-anchor="middle" fill="#1a1a1a">0,4</text>
<text x="663.75" y="183.59" textLength="18.92" lengthAdjust="spacingAndGlyphs" font-size="16" text-anchor="middle" fill="#1a1a1a">2,8</text>
<text x="937.31" y="183.59" transform="scale(0.8079,1)" textLength="29.66" lengthAdjust="spacing" font-size="16" font-weight="700" text-anchor="middle" fill="#1a1a1a" stroke="#1a1a1a" stroke-width="0.15">130</text>
<text x="852.25" y="183.59" textLength="18.92" lengthAdjust="spacingAndGlyphs" font-size="16" text-anchor="middle" fill="#1a1a1a">2,5</text>
<text x="971.60" y="183.59" textLength="16.09" lengthAdjust="spacingAndGlyphs" font-size="16" text-anchor="middle" fill="#1a1a1a">28</text>
<text x="1070.10" y="183.59" textLength="16.09" lengthAdjust="spacingAndGlyphs" font-size="16" text-anchor="middle" fill="#1a1a1a">20</text>
<text x="297.73" y="205.53" transform="scale(0.7802,1)" textLength="150.01" lengthAdjust="spacing" font-size="16" font-weight="700" fill="#1a1a1a" stroke="#1a1a1a" stroke-width="0.35">EU010250000000</text>
<text x="455.65" y="205.53" textLength="16.09" lengthAdjust="spacingAndGlyphs" font-size="16" text-anchor="middle" fill="#1a1a1a">25</text>
<text x="557.30" y="205.53" textLength="18.92" lengthAdjust="spacingAndGlyphs" font-size="16" text-anchor="middle" fill="#1a1a1a">0,4</text>
<text x="663.75" y="205.53" textLength="18.92" lengthAdjust="spacingAndGlyphs" font-size="16" text-anchor="middle" fill="#1a1a1a">2,8</text>
<text x="937.31" y="205.53" transform="scale(0.8079,1)" textLength="29.66" lengthAdjust="spacing" font-size="16" font-weight="700" text-anchor="middle" fill="#1a1a1a" stroke="#1a1a1a" stroke-width="0.15">150</text>
<text x="852.25" y="205.53" textLength="18.92" lengthAdjust="spacingAndGlyphs" font-size="16" text-anchor="middle" fill="#1a1a1a">2,5</text>
<text x="971.60" y="205.53" textLength="16.09" lengthAdjust="spacingAndGlyphs" font-size="16" text-anchor="middle" fill="#1a1a1a">30</text>
<text x="1070.10" y="205.53" textLength="16.09" lengthAdjust="spacingAndGlyphs" font-size="16" text-anchor="middle" fill="#1a1a1a">20</text>
<text x="297.73" y="227.48" transform="scale(0.7802,1)" textLength="150.01" lengthAdjust="spacing" font-size="16" font-weight="700" fill="#1a1a1a" stroke="#1a1a1a" stroke-width="0.35">EU010300000000</text>
<text x="455.65" y="227.48" textLength="16.09" lengthAdjust="spacingAndGlyphs" font-size="16" text-anchor="middle" fill="#1a1a1a">30</text>
<text x="557.30" y="227.48" textLength="18.92" lengthAdjust="spacingAndGlyphs" font-size="16" text-anchor="middle" fill="#1a1a1a">0,4</text>
<text x="663.75" y="227.48" textLength="18.92" lengthAdjust="spacingAndGlyphs" font-size="16" text-anchor="middle" fill="#1a1a1a">2,8</text>
<text x="937.31" y="227.48" transform="scale(0.8079,1)" textLength="29.66" lengthAdjust="spacing" font-size="16" font-weight="700" text-anchor="middle" fill="#1a1a1a" stroke="#1a1a1a" stroke-width="0.15">170</text>
<text x="852.25" y="227.48" textLength="18.92" lengthAdjust="spacingAndGlyphs" font-size="16" text-anchor="middle" fill="#1a1a1a">2,5</text>
<text x="971.60" y="227.48" textLength="16.09" lengthAdjust="spacingAndGlyphs" font-size="16" text-anchor="middle" fill="#1a1a1a">35</text>
<text x="1070.10" y="227.48" textLength="16.09" lengthAdjust="spacingAndGlyphs" font-size="16" text-anchor="middle" fill="#1a1a1a">20</text>
<text x="297.73" y="249.43" transform="scale(0.7802,1)" textLength="150.01" lengthAdjust="spacing" font-size="16" font-weight="700" fill="#1a1a1a" stroke="#1a1a1a" stroke-width="0.35">EU010320000000</text>
<text x="455.65" y="249.43" textLength="26.21" lengthAdjust="spacingAndGlyphs" font-size="16" text-anchor="middle" fill="#1a1a1a">31,8</text>
<text x="557.30" y="249.43" textLength="18.92" lengthAdjust="spacingAndGlyphs" font-size="16" text-anchor="middle" fill="#1a1a1a">0,4</text>
<text x="663.75" y="249.43" textLength="18.92" lengthAdjust="spacingAndGlyphs" font-size="16" text-anchor="middle" fill="#1a1a1a">2,9</text>
<text x="937.31" y="249.43" transform="scale(0.8079,1)" textLength="29.66" lengthAdjust="spacing" font-size="16" font-weight="700" text-anchor="middle" fill="#1a1a1a" stroke="#1a1a1a" stroke-width="0.15">190</text>
<text x="852.25" y="249.43" textLength="8.80" lengthAdjust="spacingAndGlyphs" font-size="16" text-anchor="middle" fill="#1a1a1a">2</text>
<text x="971.60" y="249.43" textLength="16.09" lengthAdjust="spacingAndGlyphs" font-size="16" text-anchor="middle" fill="#1a1a1a">35</text>
<text x="1070.10" y="249.43" textLength="16.09" lengthAdjust="spacingAndGlyphs" font-size="16" text-anchor="middle" fill="#1a1a1a">20</text>
<text x="297.73" y="271.38" transform="scale(0.7802,1)" textLength="150.01" lengthAdjust="spacing" font-size="16" font-weight="700" fill="#1a1a1a" stroke="#1a1a1a" stroke-width="0.35">EU010350000000</text>
<text x="455.65" y="271.38" textLength="16.09" lengthAdjust="spacingAndGlyphs" font-size="16" text-anchor="middle" fill="#1a1a1a">35</text>
<text x="557.30" y="271.38" textLength="18.92" lengthAdjust="spacingAndGlyphs" font-size="16" text-anchor="middle" fill="#1a1a1a">0,5</text>
<text x="663.75" y="271.38" textLength="8.80" lengthAdjust="spacingAndGlyphs" font-size="16" text-anchor="middle" fill="#1a1a1a">3</text>
<text x="937.31" y="271.38" transform="scale(0.8079,1)" textLength="29.66" lengthAdjust="spacing" font-size="16" font-weight="700" text-anchor="middle" fill="#1a1a1a" stroke="#1a1a1a" stroke-width="0.15">210</text>
<text x="852.25" y="271.38" textLength="8.80" lengthAdjust="spacingAndGlyphs" font-size="16" text-anchor="middle" fill="#1a1a1a">2</text>
<text x="971.60" y="271.38" textLength="16.09" lengthAdjust="spacingAndGlyphs" font-size="16" text-anchor="middle" fill="#1a1a1a">45</text>
<text x="1070.10" y="271.38" textLength="16.09" lengthAdjust="spacingAndGlyphs" font-size="16" text-anchor="middle" fill="#1a1a1a">20</text>
<text x="297.73" y="293.32" transform="scale(0.7802,1)" textLength="150.01" lengthAdjust="spacing" font-size="16" font-weight="700" fill="#1a1a1a" stroke="#1a1a1a" stroke-width="0.35">EU010380000000</text>
<text x="455.65" y="293.32" textLength="26.21" lengthAdjust="spacingAndGlyphs" font-size="16" text-anchor="middle" fill="#1a1a1a">38,1</text>
<text x="557.30" y="293.32" textLength="18.92" lengthAdjust="spacingAndGlyphs" font-size="16" text-anchor="middle" fill="#1a1a1a">0,5</text>
<text x="663.75" y="293.32" textLength="18.92" lengthAdjust="spacingAndGlyphs" font-size="16" text-anchor="middle" fill="#1a1a1a">3,1</text>
<text x="937.31" y="293.32" transform="scale(0.8079,1)" textLength="29.66" lengthAdjust="spacing" font-size="16" font-weight="700" text-anchor="middle" fill="#1a1a1a" stroke="#1a1a1a" stroke-width="0.15">240</text>
<text x="852.25" y="293.32" textLength="8.80" lengthAdjust="spacingAndGlyphs" font-size="16" text-anchor="middle" fill="#1a1a1a">2</text>
<text x="971.60" y="293.32" textLength="16.09" lengthAdjust="spacingAndGlyphs" font-size="16" text-anchor="middle" fill="#1a1a1a">50</text>
<text x="1070.10" y="293.32" textLength="16.09" lengthAdjust="spacingAndGlyphs" font-size="16" text-anchor="middle" fill="#1a1a1a">20</text>
<text x="297.73" y="315.27" transform="scale(0.7802,1)" textLength="150.01" lengthAdjust="spacing" font-size="16" font-weight="700" fill="#1a1a1a" stroke="#1a1a1a" stroke-width="0.35">EU010400000000</text>
<text x="455.65" y="315.27" textLength="16.09" lengthAdjust="spacingAndGlyphs" font-size="16" text-anchor="middle" fill="#1a1a1a">40</text>
<text x="557.30" y="315.27" textLength="18.92" lengthAdjust="spacingAndGlyphs" font-size="16" text-anchor="middle" fill="#1a1a1a">0,5</text>
<text x="663.75" y="315.27" textLength="18.92" lengthAdjust="spacingAndGlyphs" font-size="16" text-anchor="middle" fill="#1a1a1a">3,1</text>
<text x="937.31" y="315.27" transform="scale(0.8079,1)" textLength="29.66" lengthAdjust="spacing" font-size="16" font-weight="700" text-anchor="middle" fill="#1a1a1a" stroke="#1a1a1a" stroke-width="0.15">260</text>
<text x="852.25" y="315.27" textLength="8.80" lengthAdjust="spacingAndGlyphs" font-size="16" text-anchor="middle" fill="#1a1a1a">2</text>
<text x="971.60" y="315.27" textLength="16.09" lengthAdjust="spacingAndGlyphs" font-size="16" text-anchor="middle" fill="#1a1a1a">60</text>
<text x="1070.10" y="315.27" textLength="16.09" lengthAdjust="spacingAndGlyphs" font-size="16" text-anchor="middle" fill="#1a1a1a">20</text>
<text x="297.73" y="337.22" transform="scale(0.7802,1)" textLength="150.01" lengthAdjust="spacing" font-size="16" font-weight="700" fill="#1a1a1a" stroke="#1a1a1a" stroke-width="0.35">EU010450000000</text>
<text x="455.65" y="337.22" textLength="16.09" lengthAdjust="spacingAndGlyphs" font-size="16" text-anchor="middle" fill="#1a1a1a">45</text>
<text x="557.30" y="337.22" textLength="18.92" lengthAdjust="spacingAndGlyphs" font-size="16" text-anchor="middle" fill="#1a1a1a">0,5</text>
<text x="663.75" y="337.22" textLength="18.92" lengthAdjust="spacingAndGlyphs" font-size="16" text-anchor="middle" fill="#1a1a1a">3,2</text>
<text x="937.31" y="337.22" transform="scale(0.8079,1)" textLength="29.66" lengthAdjust="spacing" font-size="16" font-weight="700" text-anchor="middle" fill="#1a1a1a" stroke="#1a1a1a" stroke-width="0.15">300</text>
<text x="852.25" y="337.22" textLength="8.80" lengthAdjust="spacingAndGlyphs" font-size="16" text-anchor="middle" fill="#1a1a1a">2</text>
<text x="971.60" y="337.22" textLength="16.09" lengthAdjust="spacingAndGlyphs" font-size="16" text-anchor="middle" fill="#1a1a1a">65</text>
<text x="1070.10" y="337.22" textLength="16.09" lengthAdjust="spacingAndGlyphs" font-size="16" text-anchor="middle" fill="#1a1a1a">20</text>
<text x="293.46" y="359.16" transform="scale(0.7916,1)" textLength="157.25" lengthAdjust="spacing" font-size="16" font-weight="700" fill="#1a1a1a" stroke="#1a1a1a" stroke-width="0.35">EU010500000000*</text>
<text x="455.65" y="359.16" textLength="16.09" lengthAdjust="spacingAndGlyphs" font-size="16" text-anchor="middle" fill="#1a1a1a">50</text>
<text x="557.30" y="359.16" textLength="18.92" lengthAdjust="spacingAndGlyphs" font-size="16" text-anchor="middle" fill="#1a1a1a">0,5</text>
<text x="663.75" y="359.16" textLength="18.92" lengthAdjust="spacingAndGlyphs" font-size="16" text-anchor="middle" fill="#1a1a1a">3,4</text>
<text x="937.31" y="359.16" transform="scale(0.8079,1)" textLength="29.66" lengthAdjust="spacing" font-size="16" font-weight="700" text-anchor="middle" fill="#1a1a1a" stroke="#1a1a1a" stroke-width="0.15">350</text>
<text x="852.25" y="359.16" textLength="8.80" lengthAdjust="spacingAndGlyphs" font-size="16" text-anchor="middle" fill="#1a1a1a">2</text>
<text x="971.60" y="359.16" textLength="16.09" lengthAdjust="spacingAndGlyphs" font-size="16" text-anchor="middle" fill="#1a1a1a">70</text>
<text x="1070.10" y="359.16" textLength="16.09" lengthAdjust="spacingAndGlyphs" font-size="16" text-anchor="middle" fill="#1a1a1a">20</text>
<text x="297.73" y="381.11" transform="scale(0.7802,1)" textLength="150.01" lengthAdjust="spacing" font-size="16" font-weight="700" fill="#1a1a1a" stroke="#1a1a1a" stroke-width="0.35">EU010520000000</text>
<text x="455.65" y="381.11" textLength="26.21" lengthAdjust="spacingAndGlyphs" font-size="16" text-anchor="middle" fill="#1a1a1a">50,8</text>
<text x="557.30" y="381.11" textLength="18.92" lengthAdjust="spacingAndGlyphs" font-size="16" text-anchor="middle" fill="#1a1a1a">0,5</text>
<text x="663.75" y="381.11" textLength="18.92" lengthAdjust="spacingAndGlyphs" font-size="16" text-anchor="middle" fill="#1a1a1a">3,4</text>
<text x="937.31" y="381.11" transform="scale(0.8079,1)" textLength="29.66" lengthAdjust="spacing" font-size="16" font-weight="700" text-anchor="middle" fill="#1a1a1a" stroke="#1a1a1a" stroke-width="0.15">350</text>
<text x="852.25" y="381.11" textLength="8.80" lengthAdjust="spacingAndGlyphs" font-size="16" text-anchor="middle" fill="#1a1a1a">2</text>
<text x="971.60" y="381.11" textLength="16.09" lengthAdjust="spacingAndGlyphs" font-size="16" text-anchor="middle" fill="#1a1a1a">70</text>
<text x="1070.10" y="381.11" textLength="16.09" lengthAdjust="spacingAndGlyphs" font-size="16" text-anchor="middle" fill="#1a1a1a">20</text>
<text x="293.46" y="403.06" transform="scale(0.7916,1)" textLength="157.25" lengthAdjust="spacing" font-size="16" font-weight="700" fill="#1a1a1a" stroke="#1a1a1a" stroke-width="0.35">EU010550000000*</text>
<text x="455.65" y="403.06" textLength="16.09" lengthAdjust="spacingAndGlyphs" font-size="16" text-anchor="middle" fill="#1a1a1a">55</text>
<text x="557.30" y="403.06" textLength="18.92" lengthAdjust="spacingAndGlyphs" font-size="16" text-anchor="middle" fill="#1a1a1a">0,5</text>
<text x="663.75" y="403.06" textLength="18.92" lengthAdjust="spacingAndGlyphs" font-size="16" text-anchor="middle" fill="#1a1a1a">3,6</text>
<text x="937.31" y="403.06" transform="scale(0.8079,1)" textLength="29.66" lengthAdjust="spacing" font-size="16" font-weight="700" text-anchor="middle" fill="#1a1a1a" stroke="#1a1a1a" stroke-width="0.15">410</text>
<text x="852.25" y="403.06" textLength="8.80" lengthAdjust="spacingAndGlyphs" font-size="16" text-anchor="middle" fill="#1a1a1a">2</text>
<text x="971.60" y="403.06" textLength="16.09" lengthAdjust="spacingAndGlyphs" font-size="16" text-anchor="middle" fill="#1a1a1a">75</text>
<text x="1070.10" y="403.06" textLength="16.09" lengthAdjust="spacingAndGlyphs" font-size="16" text-anchor="middle" fill="#1a1a1a">20</text>
<text x="297.73" y="425.00" transform="scale(0.7802,1)" textLength="150.01" lengthAdjust="spacing" font-size="16" font-weight="700" fill="#1a1a1a" stroke="#1a1a1a" stroke-width="0.35">EU010600000000</text>
<text x="455.65" y="425.00" textLength="16.09" lengthAdjust="spacingAndGlyphs" font-size="16" text-anchor="middle" fill="#1a1a1a">60</text>
<text x="557.30" y="425.00" textLength="18.92" lengthAdjust="spacingAndGlyphs" font-size="16" text-anchor="middle" fill="#1a1a1a">0,5</text>
<text x="663.75" y="425.00" textLength="18.92" lengthAdjust="spacingAndGlyphs" font-size="16" text-anchor="middle" fill="#1a1a1a">3,8</text>
<text x="937.31" y="425.00" transform="scale(0.8079,1)" textLength="29.66" lengthAdjust="spacing" font-size="16" font-weight="700" text-anchor="middle" fill="#1a1a1a" stroke="#1a1a1a" stroke-width="0.15">490</text>
<text x="852.25" y="425.00" textLength="18.92" lengthAdjust="spacingAndGlyphs" font-size="16" text-anchor="middle" fill="#1a1a1a">1,6</text>
<text x="971.60" y="425.00" textLength="16.09" lengthAdjust="spacingAndGlyphs" font-size="16" text-anchor="middle" fill="#1a1a1a">80</text>
<text x="1070.10" y="425.00" textLength="16.09" lengthAdjust="spacingAndGlyphs" font-size="16" text-anchor="middle" fill="#1a1a1a">20</text>
<text x="297.73" y="446.95" transform="scale(0.7802,1)" textLength="150.01" lengthAdjust="spacing" font-size="16" font-weight="700" fill="#1a1a1a" stroke="#1a1a1a" stroke-width="0.35">EU010630000000</text>
<text x="455.65" y="446.95" textLength="26.21" lengthAdjust="spacingAndGlyphs" font-size="16" text-anchor="middle" fill="#1a1a1a">63,5</text>
<text x="557.30" y="446.95" textLength="18.92" lengthAdjust="spacingAndGlyphs" font-size="16" text-anchor="middle" fill="#1a1a1a">0,5</text>
<text x="663.75" y="446.95" textLength="18.92" lengthAdjust="spacingAndGlyphs" font-size="16" text-anchor="middle" fill="#1a1a1a">3,9</text>
<text x="937.31" y="446.95" transform="scale(0.8079,1)" textLength="29.66" lengthAdjust="spacing" font-size="16" font-weight="700" text-anchor="middle" fill="#1a1a1a" stroke="#1a1a1a" stroke-width="0.15">540</text>
<text x="852.25" y="446.95" textLength="18.92" lengthAdjust="spacingAndGlyphs" font-size="16" text-anchor="middle" fill="#1a1a1a">1,6</text>
<text x="971.60" y="446.95" textLength="16.09" lengthAdjust="spacingAndGlyphs" font-size="16" text-anchor="middle" fill="#1a1a1a">80</text>
<text x="1070.10" y="446.95" textLength="16.09" lengthAdjust="spacingAndGlyphs" font-size="16" text-anchor="middle" fill="#1a1a1a">20</text>
<text x="293.46" y="468.90" transform="scale(0.7916,1)" textLength="157.25" lengthAdjust="spacing" font-size="16" font-weight="700" fill="#1a1a1a" stroke="#1a1a1a" stroke-width="0.35">EU010650000000*</text>
<text x="455.65" y="468.90" textLength="16.09" lengthAdjust="spacingAndGlyphs" font-size="16" text-anchor="middle" fill="#1a1a1a">65</text>
<text x="557.30" y="468.90" textLength="18.92" lengthAdjust="spacingAndGlyphs" font-size="16" text-anchor="middle" fill="#1a1a1a">0,5</text>
<text x="663.75" y="468.90" textLength="18.92" lengthAdjust="spacingAndGlyphs" font-size="16" text-anchor="middle" fill="#1a1a1a">3,9</text>
<text x="937.31" y="468.90" transform="scale(0.8079,1)" textLength="29.66" lengthAdjust="spacing" font-size="16" font-weight="700" text-anchor="middle" fill="#1a1a1a" stroke="#1a1a1a" stroke-width="0.15">550</text>
<text x="852.25" y="468.90" textLength="18.92" lengthAdjust="spacingAndGlyphs" font-size="16" text-anchor="middle" fill="#1a1a1a">1,6</text>
<text x="971.60" y="468.90" textLength="16.09" lengthAdjust="spacingAndGlyphs" font-size="16" text-anchor="middle" fill="#1a1a1a">90</text>
<text x="1070.10" y="468.90" textLength="16.09" lengthAdjust="spacingAndGlyphs" font-size="16" text-anchor="middle" fill="#1a1a1a">20</text>
<text x="297.73" y="490.85" transform="scale(0.7802,1)" textLength="150.01" lengthAdjust="spacing" font-size="16" font-weight="700" fill="#1a1a1a" stroke="#1a1a1a" stroke-width="0.35">EU010700000000</text>
<text x="455.65" y="490.85" textLength="16.09" lengthAdjust="spacingAndGlyphs" font-size="16" text-anchor="middle" fill="#1a1a1a">70</text>
<text x="557.30" y="490.85" textLength="18.92" lengthAdjust="spacingAndGlyphs" font-size="16" text-anchor="middle" fill="#1a1a1a">0,6</text>
<text x="663.75" y="490.85" textLength="18.92" lengthAdjust="spacingAndGlyphs" font-size="16" text-anchor="middle" fill="#1a1a1a">4,2</text>
<text x="937.31" y="490.85" transform="scale(0.8079,1)" textLength="29.66" lengthAdjust="spacing" font-size="16" font-weight="700" text-anchor="middle" fill="#1a1a1a" stroke="#1a1a1a" stroke-width="0.15">590</text>
<text x="852.25" y="490.85" textLength="18.92" lengthAdjust="spacingAndGlyphs" font-size="16" text-anchor="middle" fill="#1a1a1a">1,6</text>
<text x="971.60" y="490.85" textLength="16.09" lengthAdjust="spacingAndGlyphs" font-size="16" text-anchor="middle" fill="#1a1a1a">95</text>
<text x="1070.10" y="490.85" textLength="16.09" lengthAdjust="spacingAndGlyphs" font-size="16" text-anchor="middle" fill="#1a1a1a">30</text>
<text x="297.73" y="512.79" transform="scale(0.7802,1)" textLength="150.01" lengthAdjust="spacing" font-size="16" font-weight="700" fill="#1a1a1a" stroke="#1a1a1a" stroke-width="0.35">EU010760000000</text>
<text x="455.65" y="512.79" textLength="26.21" lengthAdjust="spacingAndGlyphs" font-size="16" text-anchor="middle" fill="#1a1a1a">76,2</text>
<text x="557.30" y="512.79" textLength="18.92" lengthAdjust="spacingAndGlyphs" font-size="16" text-anchor="middle" fill="#1a1a1a">0,6</text>
<text x="663.75" y="512.79" textLength="18.92" lengthAdjust="spacingAndGlyphs" font-size="16" text-anchor="middle" fill="#1a1a1a">4,2</text>
<text x="937.31" y="512.79" transform="scale(0.8079,1)" textLength="29.66" lengthAdjust="spacing" font-size="16" font-weight="700" text-anchor="middle" fill="#1a1a1a" stroke="#1a1a1a" stroke-width="0.15">640</text>
<text x="852.25" y="512.79" textLength="18.92" lengthAdjust="spacingAndGlyphs" font-size="16" text-anchor="middle" fill="#1a1a1a">1,6</text>
<text x="971.60" y="512.79" textLength="23.37" lengthAdjust="spacingAndGlyphs" font-size="16" text-anchor="middle" fill="#1a1a1a">100</text>
<text x="1070.10" y="512.79" textLength="16.09" lengthAdjust="spacingAndGlyphs" font-size="16" text-anchor="middle" fill="#1a1a1a">30</text>
<text x="297.73" y="534.74" transform="scale(0.7802,1)" textLength="150.01" lengthAdjust="spacing" font-size="16" font-weight="700" fill="#1a1a1a" stroke="#1a1a1a" stroke-width="0.35">EU010800000000</text>
<text x="455.65" y="534.74" textLength="16.09" lengthAdjust="spacingAndGlyphs" font-size="16" text-anchor="middle" fill="#1a1a1a">80</text>
<text x="557.30" y="534.74" textLength="18.92" lengthAdjust="spacingAndGlyphs" font-size="16" text-anchor="middle" fill="#1a1a1a">0,6</text>
<text x="663.75" y="534.74" textLength="18.92" lengthAdjust="spacingAndGlyphs" font-size="16" text-anchor="middle" fill="#1a1a1a">4,5</text>
<text x="937.31" y="534.74" transform="scale(0.8079,1)" textLength="29.66" lengthAdjust="spacing" font-size="16" font-weight="700" text-anchor="middle" fill="#1a1a1a" stroke="#1a1a1a" stroke-width="0.15">680</text>
<text x="852.25" y="534.74" textLength="18.92" lengthAdjust="spacingAndGlyphs" font-size="16" text-anchor="middle" fill="#1a1a1a">1,6</text>
<text x="971.60" y="534.74" textLength="23.37" lengthAdjust="spacingAndGlyphs" font-size="16" text-anchor="middle" fill="#1a1a1a">110</text>
<text x="1070.10" y="534.74" textLength="16.09" lengthAdjust="spacingAndGlyphs" font-size="16" text-anchor="middle" fill="#1a1a1a">30</text>
<text x="297.73" y="556.69" transform="scale(0.7802,1)" textLength="150.01" lengthAdjust="spacing" font-size="16" font-weight="700" fill="#1a1a1a" stroke="#1a1a1a" stroke-width="0.35">EU010900000000</text>
<text x="455.65" y="556.69" textLength="16.09" lengthAdjust="spacingAndGlyphs" font-size="16" text-anchor="middle" fill="#1a1a1a">90</text>
<text x="557.30" y="556.69" textLength="18.92" lengthAdjust="spacingAndGlyphs" font-size="16" text-anchor="middle" fill="#1a1a1a">0,6</text>
<text x="663.75" y="556.69" textLength="18.92" lengthAdjust="spacingAndGlyphs" font-size="16" text-anchor="middle" fill="#1a1a1a">4,6</text>
<text x="937.31" y="556.69" transform="scale(0.8079,1)" textLength="29.66" lengthAdjust="spacing" font-size="16" font-weight="700" text-anchor="middle" fill="#1a1a1a" stroke="#1a1a1a" stroke-width="0.15">790</text>
<text x="852.25" y="556.69" textLength="18.92" lengthAdjust="spacingAndGlyphs" font-size="16" text-anchor="middle" fill="#1a1a1a">1,4</text>
<text x="971.60" y="556.69" textLength="23.37" lengthAdjust="spacingAndGlyphs" font-size="16" text-anchor="middle" fill="#1a1a1a">125</text>
<text x="1070.10" y="556.69" textLength="16.09" lengthAdjust="spacingAndGlyphs" font-size="16" text-anchor="middle" fill="#1a1a1a">30</text>
<text x="295.69" y="578.63" transform="scale(0.7856,1)" textLength="148.98" lengthAdjust="spacing" font-size="16" font-weight="700" fill="#1a1a1a" stroke="#1a1a1a" stroke-width="0.35">EU011000000000</text>
<text x="455.65" y="578.63" textLength="23.37" lengthAdjust="spacingAndGlyphs" font-size="16" text-anchor="middle" fill="#1a1a1a">100</text>
<text x="557.30" y="578.63" textLength="18.92" lengthAdjust="spacingAndGlyphs" font-size="16" text-anchor="middle" fill="#1a1a1a">0,6</text>
<text x="663.75" y="578.63" textLength="18.92" lengthAdjust="spacingAndGlyphs" font-size="16" text-anchor="middle" fill="#1a1a1a">4,8</text>
<text x="937.31" y="578.63" transform="scale(0.8079,1)" textLength="29.66" lengthAdjust="spacing" font-size="16" font-weight="700" text-anchor="middle" fill="#1a1a1a" stroke="#1a1a1a" stroke-width="0.15">850</text>
<text x="852.25" y="578.63" textLength="18.92" lengthAdjust="spacingAndGlyphs" font-size="16" text-anchor="middle" fill="#1a1a1a">1,3</text>
<text x="971.60" y="578.63" textLength="23.37" lengthAdjust="spacingAndGlyphs" font-size="16" text-anchor="middle" fill="#1a1a1a">140</text>
<text x="1070.10" y="578.63" textLength="16.09" lengthAdjust="spacingAndGlyphs" font-size="16" text-anchor="middle" fill="#1a1a1a">30</text>
<text x="295.69" y="600.58" transform="scale(0.7856,1)" textLength="148.98" lengthAdjust="spacing" font-size="16" font-weight="700" fill="#1a1a1a" stroke="#1a1a1a" stroke-width="0.35">EU011020000000</text>
<text x="455.65" y="600.58" textLength="23.37" lengthAdjust="spacingAndGlyphs" font-size="16" text-anchor="middle" fill="#1a1a1a">102</text>
<text x="557.30" y="600.58" textLength="18.92" lengthAdjust="spacingAndGlyphs" font-size="16" text-anchor="middle" fill="#1a1a1a">0,6</text>
<text x="663.75" y="600.58" textLength="18.92" lengthAdjust="spacingAndGlyphs" font-size="16" text-anchor="middle" fill="#1a1a1a">4,8</text>
<text x="937.31" y="600.58" transform="scale(0.8079,1)" textLength="29.66" lengthAdjust="spacing" font-size="16" font-weight="700" text-anchor="middle" fill="#1a1a1a" stroke="#1a1a1a" stroke-width="0.15">870</text>
<text x="852.25" y="600.58" textLength="18.92" lengthAdjust="spacingAndGlyphs" font-size="16" text-anchor="middle" fill="#1a1a1a">1,3</text>
<text x="971.60" y="600.58" textLength="23.37" lengthAdjust="spacingAndGlyphs" font-size="16" text-anchor="middle" fill="#1a1a1a">140</text>
<text x="1070.10" y="600.58" textLength="16.09" lengthAdjust="spacingAndGlyphs" font-size="16" text-anchor="middle" fill="#1a1a1a">30</text>
<text x="293.65" y="622.53" transform="scale(0.7911,1)" textLength="147.96" lengthAdjust="spacing" font-size="16" font-weight="700" fill="#1a1a1a" stroke="#1a1a1a" stroke-width="0.35">EU011100000000</text>
<text x="455.65" y="622.53" textLength="23.37" lengthAdjust="spacingAndGlyphs" font-size="16" text-anchor="middle" fill="#1a1a1a">110</text>
<text x="557.30" y="622.53" textLength="18.92" lengthAdjust="spacingAndGlyphs" font-size="16" text-anchor="middle" fill="#1a1a1a">0,6</text>
<text x="663.75" y="622.53" textLength="18.92" lengthAdjust="spacingAndGlyphs" font-size="16" text-anchor="middle" fill="#1a1a1a">5,1</text>
<text x="946.19" y="622.53" transform="scale(0.8003,1)" textLength="39.55" lengthAdjust="spacing" font-size="16" font-weight="700" text-anchor="middle" fill="#1a1a1a" stroke="#1a1a1a" stroke-width="0.15">1000</text>
<text x="852.25" y="622.53" textLength="18.92" lengthAdjust="spacingAndGlyphs" font-size="16" text-anchor="middle" fill="#1a1a1a">1,2</text>
<text x="971.60" y="622.53" textLength="23.37" lengthAdjust="spacingAndGlyphs" font-size="16" text-anchor="middle" fill="#1a1a1a">150</text>
<text x="1070.10" y="622.53" textLength="16.09" lengthAdjust="spacingAndGlyphs" font-size="16" text-anchor="middle" fill="#1a1a1a">30</text>
<text x="295.69" y="644.47" transform="scale(0.7856,1)" textLength="148.98" lengthAdjust="spacing" font-size="16" font-weight="700" fill="#1a1a1a" stroke="#1a1a1a" stroke-width="0.35">EU011200000000</text>
<text x="455.65" y="644.47" textLength="23.37" lengthAdjust="spacingAndGlyphs" font-size="16" text-anchor="middle" fill="#1a1a1a">120</text>
<text x="557.30" y="644.47" textLength="18.92" lengthAdjust="spacingAndGlyphs" font-size="16" text-anchor="middle" fill="#1a1a1a">0,6</text>
<text x="663.75" y="644.47" textLength="18.92" lengthAdjust="spacingAndGlyphs" font-size="16" text-anchor="middle" fill="#1a1a1a">5,4</text>
<text x="922.72" y="644.47" transform="scale(0.8207,1)" textLength="38.57" lengthAdjust="spacing" font-size="16" font-weight="700" text-anchor="middle" fill="#1a1a1a" stroke="#1a1a1a" stroke-width="0.15">1190</text>
<text x="852.25" y="644.47" textLength="8.80" lengthAdjust="spacingAndGlyphs" font-size="16" text-anchor="middle" fill="#1a1a1a">1</text>
<text x="971.60" y="644.47" textLength="23.37" lengthAdjust="spacingAndGlyphs" font-size="16" text-anchor="middle" fill="#1a1a1a">160</text>
<text x="1070.10" y="644.47" textLength="16.09" lengthAdjust="spacingAndGlyphs" font-size="16" text-anchor="middle" fill="#1a1a1a">30</text>
<text x="295.69" y="666.42" transform="scale(0.7856,1)" textLength="148.98" lengthAdjust="spacing" font-size="16" font-weight="700" fill="#1a1a1a" stroke="#1a1a1a" stroke-width="0.35">EU011270000000</text>
<text x="455.65" y="666.42" textLength="23.37" lengthAdjust="spacingAndGlyphs" font-size="16" text-anchor="middle" fill="#1a1a1a">127</text>
<text x="557.30" y="666.42" textLength="18.92" lengthAdjust="spacingAndGlyphs" font-size="16" text-anchor="middle" fill="#1a1a1a">0,6</text>
<text x="663.75" y="666.42" textLength="18.92" lengthAdjust="spacingAndGlyphs" font-size="16" text-anchor="middle" fill="#1a1a1a">5,4</text>
<text x="946.19" y="666.42" transform="scale(0.8003,1)" textLength="39.55" lengthAdjust="spacing" font-size="16" font-weight="700" text-anchor="middle" fill="#1a1a1a" stroke="#1a1a1a" stroke-width="0.15">1260</text>
<text x="852.25" y="666.42" textLength="8.80" lengthAdjust="spacingAndGlyphs" font-size="16" text-anchor="middle" fill="#1a1a1a">1</text>
<text x="971.60" y="666.42" textLength="23.37" lengthAdjust="spacingAndGlyphs" font-size="16" text-anchor="middle" fill="#1a1a1a">170</text>
<text x="1070.10" y="666.42" textLength="16.09" lengthAdjust="spacingAndGlyphs" font-size="16" text-anchor="middle" fill="#1a1a1a">30</text>
<text x="295.69" y="688.37" transform="scale(0.7856,1)" textLength="148.98" lengthAdjust="spacing" font-size="16" font-weight="700" fill="#1a1a1a" stroke="#1a1a1a" stroke-width="0.35">EU011300000000</text>
<text x="455.65" y="688.37" textLength="23.37" lengthAdjust="spacingAndGlyphs" font-size="16" text-anchor="middle" fill="#1a1a1a">130</text>
<text x="557.30" y="688.37" textLength="18.92" lengthAdjust="spacingAndGlyphs" font-size="16" text-anchor="middle" fill="#1a1a1a">0,7</text>
<text x="663.75" y="688.37" textLength="18.92" lengthAdjust="spacingAndGlyphs" font-size="16" text-anchor="middle" fill="#1a1a1a">5,7</text>
<text x="946.19" y="688.37" transform="scale(0.8003,1)" textLength="39.55" lengthAdjust="spacing" font-size="16" font-weight="700" text-anchor="middle" fill="#1a1a1a" stroke="#1a1a1a" stroke-width="0.15">1440</text>
<text x="852.25" y="688.37" textLength="18.92" lengthAdjust="spacingAndGlyphs" font-size="16" text-anchor="middle" fill="#1a1a1a">0,9</text>
<text x="971.60" y="688.37" textLength="23.37" lengthAdjust="spacingAndGlyphs" font-size="16" text-anchor="middle" fill="#1a1a1a">170</text>
<text x="1070.10" y="688.37" textLength="16.09" lengthAdjust="spacingAndGlyphs" font-size="16" text-anchor="middle" fill="#1a1a1a">20</text>
<text x="295.69" y="710.32" transform="scale(0.7856,1)" textLength="148.98" lengthAdjust="spacing" font-size="16" font-weight="700" fill="#1a1a1a" stroke="#1a1a1a" stroke-width="0.35">EU011400000000</text>
<text x="455.65" y="710.32" textLength="23.37" lengthAdjust="spacingAndGlyphs" font-size="16" text-anchor="middle" fill="#1a1a1a">140</text>
<text x="557.30" y="710.32" textLength="18.92" lengthAdjust="spacingAndGlyphs" font-size="16" text-anchor="middle" fill="#1a1a1a">0,7</text>
<text x="663.75" y="710.32" textLength="18.92" lengthAdjust="spacingAndGlyphs" font-size="16" text-anchor="middle" fill="#1a1a1a">5,7</text>
<text x="946.19" y="710.32" transform="scale(0.8003,1)" textLength="39.55" lengthAdjust="spacing" font-size="16" font-weight="700" text-anchor="middle" fill="#1a1a1a" stroke="#1a1a1a" stroke-width="0.15">1540</text>
<text x="852.25" y="710.32" textLength="18.92" lengthAdjust="spacingAndGlyphs" font-size="16" text-anchor="middle" fill="#1a1a1a">0,9</text>
<text x="971.60" y="710.32" textLength="23.37" lengthAdjust="spacingAndGlyphs" font-size="16" text-anchor="middle" fill="#1a1a1a">180</text>
<text x="1070.10" y="710.32" textLength="16.09" lengthAdjust="spacingAndGlyphs" font-size="16" text-anchor="middle" fill="#1a1a1a">20</text>
<text x="295.69" y="732.26" transform="scale(0.7856,1)" textLength="148.98" lengthAdjust="spacing" font-size="16" font-weight="700" fill="#1a1a1a" stroke="#1a1a1a" stroke-width="0.35">EU011500000000</text>
<text x="455.65" y="732.26" textLength="33.49" lengthAdjust="spacingAndGlyphs" font-size="16" text-anchor="middle" fill="#1a1a1a">151,5</text>
<text x="557.30" y="732.26" textLength="18.92" lengthAdjust="spacingAndGlyphs" font-size="16" text-anchor="middle" fill="#1a1a1a">0,7</text>
<text x="663.75" y="732.26" textLength="18.92" lengthAdjust="spacingAndGlyphs" font-size="16" text-anchor="middle" fill="#1a1a1a">5,8</text>
<text x="946.19" y="732.26" transform="scale(0.8003,1)" textLength="39.55" lengthAdjust="spacing" font-size="16" font-weight="700" text-anchor="middle" fill="#1a1a1a" stroke="#1a1a1a" stroke-width="0.15">1600</text>
<text x="852.25" y="732.26" textLength="18.92" lengthAdjust="spacingAndGlyphs" font-size="16" text-anchor="middle" fill="#1a1a1a">0,8</text>
<text x="971.60" y="732.26" textLength="23.37" lengthAdjust="spacingAndGlyphs" font-size="16" text-anchor="middle" fill="#1a1a1a">200</text>
<text x="1070.10" y="732.26" textLength="16.09" lengthAdjust="spacingAndGlyphs" font-size="16" text-anchor="middle" fill="#1a1a1a">20</text>
<text x="295.69" y="754.21" transform="scale(0.7856,1)" textLength="148.98" lengthAdjust="spacing" font-size="16" font-weight="700" fill="#1a1a1a" stroke="#1a1a1a" stroke-width="0.35">EU011520000000</text>
<text x="455.65" y="754.21" textLength="33.49" lengthAdjust="spacingAndGlyphs" font-size="16" text-anchor="middle" fill="#1a1a1a">152,4</text>
<text x="557.30" y="754.21" textLength="18.92" lengthAdjust="spacingAndGlyphs" font-size="16" text-anchor="middle" fill="#1a1a1a">0,7</text>
<text x="663.75" y="754.21" textLength="18.92" lengthAdjust="spacingAndGlyphs" font-size="16" text-anchor="middle" fill="#1a1a1a">5,8</text>
<text x="946.19" y="754.21" transform="scale(0.8003,1)" textLength="39.55" lengthAdjust="spacing" font-size="16" font-weight="700" text-anchor="middle" fill="#1a1a1a" stroke="#1a1a1a" stroke-width="0.15">1610</text>
<text x="852.25" y="754.21" textLength="18.92" lengthAdjust="spacingAndGlyphs" font-size="16" text-anchor="middle" fill="#1a1a1a">0,8</text>
<text x="971.60" y="754.21" textLength="23.37" lengthAdjust="spacingAndGlyphs" font-size="16" text-anchor="middle" fill="#1a1a1a">200</text>
<text x="1070.10" y="754.21" textLength="16.09" lengthAdjust="spacingAndGlyphs" font-size="16" text-anchor="middle" fill="#1a1a1a">20</text>
<text x="295.69" y="776.16" transform="scale(0.7856,1)" textLength="148.98" lengthAdjust="spacing" font-size="16" font-weight="700" fill="#1a1a1a" stroke="#1a1a1a" stroke-width="0.35">EU011600000000</text>
<text x="455.65" y="776.16" textLength="23.37" lengthAdjust="spacingAndGlyphs" font-size="16" text-anchor="middle" fill="#1a1a1a">160</text>
<text x="557.30" y="776.16" textLength="18.92" lengthAdjust="spacingAndGlyphs" font-size="16" text-anchor="middle" fill="#1a1a1a">0,7</text>
<text x="663.75" y="776.16" textLength="18.92" lengthAdjust="spacingAndGlyphs" font-size="16" text-anchor="middle" fill="#1a1a1a">7,2</text>
<text x="946.19" y="776.16" transform="scale(0.8003,1)" textLength="39.55" lengthAdjust="spacing" font-size="16" font-weight="700" text-anchor="middle" fill="#1a1a1a" stroke="#1a1a1a" stroke-width="0.15">2050</text>
<text x="852.25" y="776.16" textLength="18.92" lengthAdjust="spacingAndGlyphs" font-size="16" text-anchor="middle" fill="#1a1a1a">0,7</text>
<text x="971.60" y="776.16" textLength="23.37" lengthAdjust="spacingAndGlyphs" font-size="16" text-anchor="middle" fill="#1a1a1a">220</text>
<text x="1070.10" y="776.16" textLength="16.09" lengthAdjust="spacingAndGlyphs" font-size="16" text-anchor="middle" fill="#1a1a1a">20</text>
<text x="295.69" y="798.10" transform="scale(0.7856,1)" textLength="148.98" lengthAdjust="spacing" font-size="16" font-weight="700" fill="#1a1a1a" stroke="#1a1a1a" stroke-width="0.35">EU011800000000</text>
<text x="455.65" y="798.10" textLength="23.37" lengthAdjust="spacingAndGlyphs" font-size="16" text-anchor="middle" fill="#1a1a1a">180</text>
<text x="557.30" y="798.10" textLength="18.92" lengthAdjust="spacingAndGlyphs" font-size="16" text-anchor="middle" fill="#1a1a1a">0,7</text>
<text x="663.75" y="798.10" textLength="18.92" lengthAdjust="spacingAndGlyphs" font-size="16" text-anchor="middle" fill="#1a1a1a">7,2</text>
<text x="946.19" y="798.10" transform="scale(0.8003,1)" textLength="39.55" lengthAdjust="spacing" font-size="16" font-weight="700" text-anchor="middle" fill="#1a1a1a" stroke="#1a1a1a" stroke-width="0.15">2300</text>
<text x="852.25" y="798.10" textLength="18.92" lengthAdjust="spacingAndGlyphs" font-size="16" text-anchor="middle" fill="#1a1a1a">0,4</text>
<text x="971.60" y="798.10" textLength="23.37" lengthAdjust="spacingAndGlyphs" font-size="16" text-anchor="middle" fill="#1a1a1a">250</text>
<text x="1070.10" y="798.10" textLength="16.09" lengthAdjust="spacingAndGlyphs" font-size="16" text-anchor="middle" fill="#1a1a1a">20</text>
<text x="297.73" y="820.05" transform="scale(0.7802,1)" textLength="150.01" lengthAdjust="spacing" font-size="16" font-weight="700" fill="#1a1a1a" stroke="#1a1a1a" stroke-width="0.35">EU012000000000</text>
<text x="455.65" y="820.05" textLength="23.37" lengthAdjust="spacingAndGlyphs" font-size="16" text-anchor="middle" fill="#1a1a1a">200</text>
<text x="557.30" y="820.05" textLength="18.92" lengthAdjust="spacingAndGlyphs" font-size="16" text-anchor="middle" fill="#1a1a1a">0,7</text>
<text x="663.75" y="820.05" textLength="18.92" lengthAdjust="spacingAndGlyphs" font-size="16" text-anchor="middle" fill="#1a1a1a">7,2</text>
<text x="946.19" y="820.05" transform="scale(0.8003,1)" textLength="39.55" lengthAdjust="spacing" font-size="16" font-weight="700" text-anchor="middle" fill="#1a1a1a" stroke="#1a1a1a" stroke-width="0.15">2370</text>
<text x="852.25" y="820.05" textLength="18.92" lengthAdjust="spacingAndGlyphs" font-size="16" text-anchor="middle" fill="#1a1a1a">0,4</text>
<text x="971.60" y="820.05" textLength="23.37" lengthAdjust="spacingAndGlyphs" font-size="16" text-anchor="middle" fill="#1a1a1a">260</text>
<text x="1070.10" y="820.05" textLength="16.09" lengthAdjust="spacingAndGlyphs" font-size="16" text-anchor="middle" fill="#1a1a1a">20</text>
<text x="293.46" y="842.00" transform="scale(0.7916,1)" textLength="157.25" lengthAdjust="spacing" font-size="16" font-weight="700" fill="#1a1a1a" stroke="#1a1a1a" stroke-width="0.35">EU012030000000*</text>
<text x="455.65" y="842.00" textLength="33.49" lengthAdjust="spacingAndGlyphs" font-size="16" text-anchor="middle" fill="#1a1a1a">203,2</text>
<text x="557.30" y="842.00" textLength="18.92" lengthAdjust="spacingAndGlyphs" font-size="16" text-anchor="middle" fill="#1a1a1a">0,7</text>
<text x="663.75" y="842.00" textLength="18.92" lengthAdjust="spacingAndGlyphs" font-size="16" text-anchor="middle" fill="#1a1a1a">7,2</text>
<text x="946.19" y="842.00" transform="scale(0.8003,1)" textLength="39.55" lengthAdjust="spacing" font-size="16" font-weight="700" text-anchor="middle" fill="#1a1a1a" stroke="#1a1a1a" stroke-width="0.15">2410</text>
<text x="852.25" y="842.00" textLength="18.92" lengthAdjust="spacingAndGlyphs" font-size="16" text-anchor="middle" fill="#1a1a1a">0,4</text>
<text x="971.60" y="842.00" textLength="23.37" lengthAdjust="spacingAndGlyphs" font-size="16" text-anchor="middle" fill="#1a1a1a">260</text>
<text x="1070.10" y="842.00" textLength="16.09" lengthAdjust="spacingAndGlyphs" font-size="16" text-anchor="middle" fill="#1a1a1a">20</text>
<text x="297.73" y="863.94" transform="scale(0.7802,1)" textLength="150.01" lengthAdjust="spacing" font-size="16" font-weight="700" fill="#1a1a1a" stroke="#1a1a1a" stroke-width="0.35">EU012500000000</text>
<text x="455.65" y="863.94" textLength="23.37" lengthAdjust="spacingAndGlyphs" font-size="16" text-anchor="middle" fill="#1a1a1a">250</text>
<text x="557.30" y="863.94" textLength="18.92" lengthAdjust="spacingAndGlyphs" font-size="16" text-anchor="middle" fill="#1a1a1a">0,8</text>
<text x="663.75" y="863.94" textLength="8.80" lengthAdjust="spacingAndGlyphs" font-size="16" text-anchor="middle" fill="#1a1a1a">8</text>
<text x="946.19" y="863.94" transform="scale(0.8003,1)" textLength="39.55" lengthAdjust="spacing" font-size="16" font-weight="700" text-anchor="middle" fill="#1a1a1a" stroke="#1a1a1a" stroke-width="0.15">3570</text>
<text x="852.25" y="863.94" textLength="18.92" lengthAdjust="spacingAndGlyphs" font-size="16" text-anchor="middle" fill="#1a1a1a">0,4</text>
<text x="971.60" y="863.94" textLength="23.37" lengthAdjust="spacingAndGlyphs" font-size="16" text-anchor="middle" fill="#1a1a1a">300</text>
<text x="1070.10" y="863.94" textLength="16.09" lengthAdjust="spacingAndGlyphs" font-size="16" text-anchor="middle" fill="#1a1a1a">10</text>
<text x="297.73" y="885.89" transform="scale(0.7802,1)" textLength="150.01" lengthAdjust="spacing" font-size="16" font-weight="700" fill="#1a1a1a" stroke="#1a1a1a" stroke-width="0.35">EU013000000000</text>
<text x="455.65" y="885.89" textLength="23.37" lengthAdjust="spacingAndGlyphs" font-size="16" text-anchor="middle" fill="#1a1a1a">300</text>
<text x="557.30" y="885.89" textLength="18.92" lengthAdjust="spacingAndGlyphs" font-size="16" text-anchor="middle" fill="#1a1a1a">0,8</text>
<text x="663.75" y="885.89" textLength="18.92" lengthAdjust="spacingAndGlyphs" font-size="16" text-anchor="middle" fill="#1a1a1a">8,2</text>
<text x="946.19" y="885.89" transform="scale(0.8003,1)" textLength="39.55" lengthAdjust="spacing" font-size="16" font-weight="700" text-anchor="middle" fill="#1a1a1a" stroke="#1a1a1a" stroke-width="0.15">4450</text>
<text x="852.25" y="885.89" textLength="18.92" lengthAdjust="spacingAndGlyphs" font-size="16" text-anchor="middle" fill="#1a1a1a">0,3</text>
<text x="971.60" y="885.89" textLength="23.37" lengthAdjust="spacingAndGlyphs" font-size="16" text-anchor="middle" fill="#1a1a1a">350</text>
<text x="1070.10" y="885.89" textLength="16.09" lengthAdjust="spacingAndGlyphs" font-size="16" text-anchor="middle" fill="#1a1a1a">10</text>
<text x="293.46" y="907.84" transform="scale(0.7916,1)" textLength="157.25" lengthAdjust="spacing" font-size="16" font-weight="700" fill="#1a1a1a" stroke="#1a1a1a" stroke-width="0.35">EU013050000000*</text>
<text x="455.65" y="907.84" textLength="33.49" lengthAdjust="spacingAndGlyphs" font-size="16" text-anchor="middle" fill="#1a1a1a">304,8</text>
<text x="557.30" y="907.84" textLength="18.92" lengthAdjust="spacingAndGlyphs" font-size="16" text-anchor="middle" fill="#1a1a1a">0,8</text>
<text x="663.75" y="907.84" textLength="18.92" lengthAdjust="spacingAndGlyphs" font-size="16" text-anchor="middle" fill="#1a1a1a">8,2</text>
<text x="946.19" y="907.84" transform="scale(0.8003,1)" textLength="39.55" lengthAdjust="spacing" font-size="16" font-weight="700" text-anchor="middle" fill="#1a1a1a" stroke="#1a1a1a" stroke-width="0.15">4520</text>
<text x="852.25" y="907.84" textLength="18.92" lengthAdjust="spacingAndGlyphs" font-size="16" text-anchor="middle" fill="#1a1a1a">0,3</text>
<text x="971.60" y="907.84" textLength="23.37" lengthAdjust="spacingAndGlyphs" font-size="16" text-anchor="middle" fill="#1a1a1a">350</text>
<text x="1070.10" y="907.84" textLength="16.09" lengthAdjust="spacingAndGlyphs" font-size="16" text-anchor="middle" fill="#1a1a1a">10</text>
<rect x="224.60" y="934.20" width="935.40" height="108.90" fill="#ffffff"/>
<rect x="224.60" y="955.90" width="182.60" height="21.80" fill="#c1d552"/>
<rect x="224.60" y="977.70" width="182.60" height="21.80" fill="#c1d552"/>
<rect x="224.60" y="999.50" width="182.60" height="21.80" fill="#c1d552"/>
<rect x="224.60" y="1021.30" width="182.60" height="21.80" fill="#c1d552"/>
<line x1="224.60" y1="934.20" x2="1160.00" y2="934.20" stroke="rgba(0,0,0,0.32)" stroke-width="1.0"/>
<line x1="224.60" y1="955.90" x2="1160.00" y2="955.90" stroke="rgba(0,0,0,0.32)" stroke-width="1.0"/>
<line x1="224.60" y1="977.70" x2="1160.00" y2="977.70" stroke="rgba(0,0,0,0.32)" stroke-width="1.0"/>
<line x1="224.60" y1="999.50" x2="1160.00" y2="999.50" stroke="rgba(0,0,0,0.32)" stroke-width="1.0"/>
<line x1="224.60" y1="1021.30" x2="1160.00" y2="1021.30" stroke="rgba(0,0,0,0.32)" stroke-width="1.0"/>
<line x1="224.60" y1="1043.10" x2="1160.00" y2="1043.10" stroke="rgba(0,0,0,0.32)" stroke-width="1.0"/>
<line x1="224.60" y1="934.20" x2="224.60" y2="1043.10" stroke="rgba(0,0,0,0.32)" stroke-width="1.0"/>
<line x1="407.20" y1="955.90" x2="407.20" y2="1043.10" stroke="rgba(0,0,0,0.32)" stroke-width="1.0"/>
<line x1="504.10" y1="955.90" x2="504.10" y2="1043.10" stroke="rgba(0,0,0,0.32)" stroke-width="1.0"/>
<line x1="610.50" y1="955.90" x2="610.50" y2="1043.10" stroke="rgba(0,0,0,0.32)" stroke-width="1.0"/>
<line x1="717.00" y1="955.90" x2="717.00" y2="1043.10" stroke="rgba(0,0,0,0.32)" stroke-width="1.0"/>
<line x1="797.50" y1="955.90" x2="797.50" y2="1043.10" stroke="rgba(0,0,0,0.32)" stroke-width="1.0"/>
<line x1="907.00" y1="955.90" x2="907.00" y2="1043.10" stroke="rgba(0,0,0,0.32)" stroke-width="1.0"/>
<line x1="1036.20" y1="955.90" x2="1036.20" y2="1043.10" stroke="rgba(0,0,0,0.32)" stroke-width="1.0"/>
<line x1="1104.00" y1="955.90" x2="1104.00" y2="1043.10" stroke="rgba(0,0,0,0.32)" stroke-width="1.0"/>
<text x="287.51" y="951.80" transform="scale(0.8080,1)" textLength="453.15" lengthAdjust="spacing" font-size="15.5" font-weight="700" fill="#1a1a1a" stroke="#1a1a1a" stroke-width="0.3">ARTICOLI JP (VERSIONE AS) / JP AS VERSION ITEMS</text>
<text x="297.73" y="973.80" transform="scale(0.7802,1)" textLength="150.01" lengthAdjust="spacing" font-size="16" font-weight="700" fill="#1a1a1a" stroke="#1a1a1a" stroke-width="0.35">EU020400000000</text>
<text x="455.65" y="973.80" textLength="16.09" lengthAdjust="spacingAndGlyphs" font-size="16" text-anchor="middle" fill="#1a1a1a">40</text>
<text x="557.30" y="973.80" textLength="18.92" lengthAdjust="spacingAndGlyphs" font-size="16" text-anchor="middle" fill="#1a1a1a">0,5</text>
<text x="663.75" y="973.80" textLength="18.92" lengthAdjust="spacingAndGlyphs" font-size="16" text-anchor="middle" fill="#1a1a1a">3,1</text>
<text x="757.25" y="973.80" textLength="23.37" lengthAdjust="spacingAndGlyphs" font-size="16" text-anchor="middle" fill="#1a1a1a">320</text>
<text x="852.25" y="973.80" textLength="8.80" lengthAdjust="spacingAndGlyphs" font-size="16" text-anchor="middle" fill="#1a1a1a">2</text>
<text x="971.60" y="973.80" textLength="16.09" lengthAdjust="spacingAndGlyphs" font-size="16" text-anchor="middle" fill="#1a1a1a">60</text>
<text x="1070.10" y="973.80" textLength="16.09" lengthAdjust="spacingAndGlyphs" font-size="16" text-anchor="middle" fill="#1a1a1a">20</text>
<text x="297.73" y="995.60" transform="scale(0.7802,1)" textLength="150.01" lengthAdjust="spacing" font-size="16" font-weight="700" fill="#1a1a1a" stroke="#1a1a1a" stroke-width="0.35">EU020520000000</text>
<text x="455.65" y="995.60" textLength="26.21" lengthAdjust="spacingAndGlyphs" font-size="16" text-anchor="middle" fill="#1a1a1a">50,8</text>
<text x="557.30" y="995.60" textLength="18.92" lengthAdjust="spacingAndGlyphs" font-size="16" text-anchor="middle" fill="#1a1a1a">0,5</text>
<text x="663.75" y="995.60" textLength="18.92" lengthAdjust="spacingAndGlyphs" font-size="16" text-anchor="middle" fill="#1a1a1a">3,4</text>
<text x="757.25" y="995.60" textLength="23.37" lengthAdjust="spacingAndGlyphs" font-size="16" text-anchor="middle" fill="#1a1a1a">420</text>
<text x="852.25" y="995.60" textLength="8.80" lengthAdjust="spacingAndGlyphs" font-size="16" text-anchor="middle" fill="#1a1a1a">2</text>
<text x="971.60" y="995.60" textLength="16.09" lengthAdjust="spacingAndGlyphs" font-size="16" text-anchor="middle" fill="#1a1a1a">70</text>
<text x="1070.10" y="995.60" textLength="16.09" lengthAdjust="spacingAndGlyphs" font-size="16" text-anchor="middle" fill="#1a1a1a">20</text>
<text x="297.73" y="1017.40" transform="scale(0.7802,1)" textLength="150.01" lengthAdjust="spacing" font-size="16" font-weight="700" fill="#1a1a1a" stroke="#1a1a1a" stroke-width="0.35">EU020600000000</text>
<text x="455.65" y="1017.40" textLength="16.09" lengthAdjust="spacingAndGlyphs" font-size="16" text-anchor="middle" fill="#1a1a1a">60</text>
<text x="557.30" y="1017.40" textLength="18.92" lengthAdjust="spacingAndGlyphs" font-size="16" text-anchor="middle" fill="#1a1a1a">0,5</text>
<text x="663.75" y="1017.40" textLength="18.92" lengthAdjust="spacingAndGlyphs" font-size="16" text-anchor="middle" fill="#1a1a1a">3,8</text>
<text x="757.25" y="1017.40" textLength="23.37" lengthAdjust="spacingAndGlyphs" font-size="16" text-anchor="middle" fill="#1a1a1a">570</text>
<text x="852.25" y="1017.40" textLength="18.92" lengthAdjust="spacingAndGlyphs" font-size="16" text-anchor="middle" fill="#1a1a1a">1,6</text>
<text x="971.60" y="1017.40" textLength="16.09" lengthAdjust="spacingAndGlyphs" font-size="16" text-anchor="middle" fill="#1a1a1a">80</text>
<text x="1070.10" y="1017.40" textLength="16.09" lengthAdjust="spacingAndGlyphs" font-size="16" text-anchor="middle" fill="#1a1a1a">20</text>
<text x="297.73" y="1039.20" transform="scale(0.7802,1)" textLength="150.01" lengthAdjust="spacing" font-size="16" font-weight="700" fill="#1a1a1a" stroke="#1a1a1a" stroke-width="0.35">EU021000000000</text>
<text x="455.65" y="1039.20" textLength="23.37" lengthAdjust="spacingAndGlyphs" font-size="16" text-anchor="middle" fill="#1a1a1a">100</text>
<text x="557.30" y="1039.20" textLength="18.92" lengthAdjust="spacingAndGlyphs" font-size="16" text-anchor="middle" fill="#1a1a1a">0,6</text>
<text x="663.75" y="1039.20" textLength="18.92" lengthAdjust="spacingAndGlyphs" font-size="16" text-anchor="middle" fill="#1a1a1a">4,8</text>
<text x="757.25" y="1039.20" textLength="23.37" lengthAdjust="spacingAndGlyphs" font-size="16" text-anchor="middle" fill="#1a1a1a">960</text>
<text x="852.25" y="1039.20" textLength="18.92" lengthAdjust="spacingAndGlyphs" font-size="16" text-anchor="middle" fill="#1a1a1a">1,3</text>
<text x="971.60" y="1039.20" textLength="23.37" lengthAdjust="spacingAndGlyphs" font-size="16" text-anchor="middle" fill="#1a1a1a">140</text>
<text x="1070.10" y="1039.20" textLength="16.09" lengthAdjust="spacingAndGlyphs" font-size="16" text-anchor="middle" fill="#1a1a1a">30</text>
<text x="226.00" y="1114.80" textLength="409.60" lengthAdjust="spacingAndGlyphs" font-size="14" fill="#262626">I dati tecnici riportati sono stati misurati a 23°C e al 50% di umidità.</text>
<text x="640.20" y="1114.80" textLength="477.80" lengthAdjust="spacingAndGlyphs" font-size="14" font-style="italic" fill="#262626">The technical data here reported have been measured at 23°C with 50% umidity.</text>
<text x="226.00" y="1129.50" textLength="462.80" lengthAdjust="spacingAndGlyphs" font-size="14" fill="#262626">*Disponibile su richiesta, per quantitativi da concordare con l’ufficio vendite.</text>
<text x="692.60" y="1129.50" textLength="447.90" lengthAdjust="spacingAndGlyphs" font-size="14" font-style="italic" fill="#262626">*Available on request, contact our sales office for more info and quantities.</text>
<text x="116.00" y="131.60" textLength="144.33" lengthAdjust="spacingAndGlyphs" font-size="15" text-anchor="end" fill="#2a2a2a">Disponibile a magazzino</text>
<text x="76.50" y="146.80" textLength="104.66" lengthAdjust="spacingAndGlyphs" font-size="15" font-style="italic" text-anchor="end" fill="#2a2a2a">Available on stock</text>
<line x1="0.00" y1="175.40" x2="197.90" y2="175.40" stroke="#868686" stroke-width="1.3"/>
<line x1="0.00" y1="299.00" x2="199.00" y2="299.00" stroke="#868686" stroke-width="1.3"/>
<line x1="0.00" y1="549.30" x2="199.00" y2="549.30" stroke="#868686" stroke-width="1.3"/>
<line x1="0.00" y1="755.80" x2="199.00" y2="755.80" stroke="#868686" stroke-width="1.3"/>
<text x="141.00" y="216.90" textLength="50.50" lengthAdjust="spacingAndGlyphs" font-size="20" font-weight="700" fill="#1a1a1a">+80°C</text>
<text x="144.40" y="261.70" textLength="47.00" lengthAdjust="spacingAndGlyphs" font-size="20" font-weight="700" fill="#1a1a1a">-40°C</text>
<text x="121.50" y="319.90" textLength="161.31" lengthAdjust="spacingAndGlyphs" font-size="18" font-weight="700" text-anchor="end" fill="#1a1a1a">DELLA STESSA SERIE</text>
<text x="89.50" y="341.30" textLength="156.60" lengthAdjust="spacingAndGlyphs" font-size="18" font-weight="700" font-style="italic" text-anchor="end" fill="#1a1a1a">OF THE SAME SERIES</text>
<text x="199.30" y="536.70" textLength="193.65" lengthAdjust="spacingAndGlyphs" font-size="15" font-weight="700" text-anchor="end" fill="#1a1a1a">EOLO PUP FOOD (cod. EP) p.94</text>
<text x="199.00" y="742.10" textLength="181.90" lengthAdjust="spacingAndGlyphs" font-size="15" font-weight="700" text-anchor="end" fill="#1a1a1a">ZEUS PU FOOD (cod. ZE) p.95</text>
<g>
<path d="M112.9,250.3 L112.9,202.7 A7.7,7.7 0 0 1 128.3,202.7 L128.3,250.3 A14.9,14.9 0 1 1 112.9,250.3 Z" fill="#ffffff" stroke="#1f1f1f" stroke-width="1.6"/>
<circle cx="120.6" cy="263.2" r="11.0" fill="#878787"/>
<path d="M117.0,216.9 L124.0,235.2 L124.0,256 L117.0,256 Z" fill="#878787"/>
</g>
</svg>
</body></html>
